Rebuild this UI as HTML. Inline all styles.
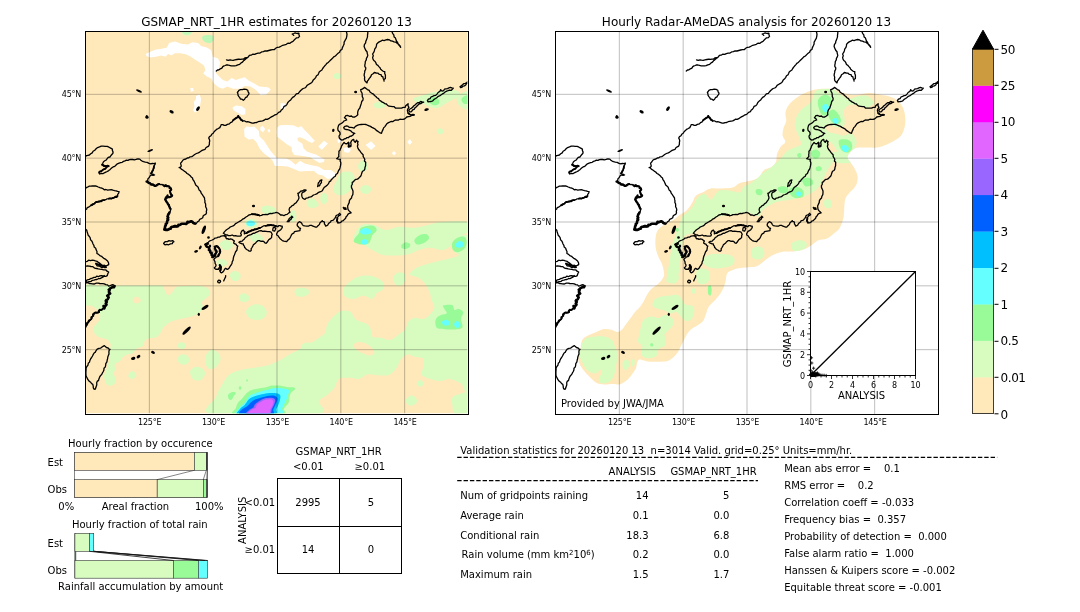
<!DOCTYPE html>
<html><head><meta charset="utf-8"><title>GSMAP_NRT_1HR validation 20260120 13</title>
<style>
html,body{margin:0;padding:0;background:#fff;}
body{width:1080px;height:612px;overflow:hidden;}
svg{display:block;font-family:"DejaVu Sans", "Liberation Sans", sans-serif;fill:#000;}
text{white-space:pre;filter:grayscale(1);}
</style></head><body>
<svg width="1080" height="612" viewBox="0 0 1080 612">
<defs><clipPath id="cl"><rect x="86" y="32" width="381.3" height="381.3"/></clipPath><clipPath id="cr"><rect x="556" y="32" width="382" height="382"/></clipPath></defs>
<rect x="85.5" y="31.5" width="383" height="383" fill="#fff"/>
<g clip-path="url(#cl)">
<rect x="85" y="31" width="384" height="384" fill="#FFE8BA"/>
<path d="M85.0 285.6C87.5 282.5 94.2 285.6 100.0 285.6C105.8 285.6 113.3 285.6 120.0 285.6C126.7 285.6 134.2 285.6 140.0 285.6C145.8 285.6 151.3 285.6 155.0 285.6C158.7 285.6 160.3 284.8 162.0 285.6C163.7 286.5 164.0 289.1 165.0 290.7C166.0 292.3 166.8 294.9 168.0 295.2C169.2 295.4 171.2 293.4 172.4 292.2C173.6 291.0 174.2 288.8 175.4 287.8C176.6 286.8 176.4 286.6 179.8 286.3C183.2 286.0 192.2 285.8 196.1 285.8C200.0 285.8 201.0 286.1 203.0 286.5C205.0 286.9 206.8 287.3 208.0 288.5C209.2 289.7 210.4 292.1 210.2 293.7C209.9 295.3 207.9 296.7 206.5 298.1C205.1 299.5 202.6 300.4 202.0 301.9C201.4 303.4 203.3 305.1 202.8 307.0C202.3 308.9 200.7 311.5 199.1 313.0C197.5 314.5 195.1 315.2 193.1 315.9C191.1 316.6 189.4 316.9 187.2 317.4C185.0 317.9 182.3 318.3 179.8 318.9C177.3 319.5 174.6 320.1 172.4 321.1C170.2 322.1 167.9 323.8 166.5 324.8C165.1 325.8 164.5 326.4 163.9 327.0C163.3 327.6 163.4 327.3 162.8 328.3C162.2 329.3 161.7 331.3 160.6 332.8C159.5 334.3 158.0 336.3 156.1 337.2C154.2 338.1 151.2 337.7 149.4 338.3C147.6 338.9 146.1 339.3 145.0 340.6C143.9 341.9 144.1 344.8 142.8 346.1C141.5 347.4 138.5 347.6 137.2 348.3C135.9 349.1 135.6 350.0 135.0 350.6C134.4 351.2 134.5 351.1 133.9 351.7C133.3 352.2 132.8 353.4 131.7 353.9C130.6 354.3 128.7 353.8 127.2 354.4C125.7 354.9 124.1 356.0 122.8 357.2C121.5 358.4 120.7 360.6 119.4 361.7C118.1 362.8 115.7 362.6 115.0 363.9C114.3 365.2 115.2 367.7 115.0 369.4C114.8 371.1 113.8 372.4 113.9 373.9C114.0 375.4 115.4 376.8 115.6 378.3C115.8 379.8 115.7 381.6 115.0 382.8C114.3 384.0 113.0 385.2 111.7 385.6C110.4 386.0 108.3 385.8 107.2 385.0C106.1 384.2 105.5 382.1 105.0 380.6C104.5 379.1 103.8 377.6 103.9 376.1C104.0 374.6 105.0 373.2 105.6 371.7C106.1 370.2 106.7 368.9 107.2 367.2C107.8 365.5 108.5 363.5 108.9 361.7C109.3 359.9 109.2 357.8 109.4 356.1C109.6 354.4 109.8 353.4 110.0 351.7C110.2 350.0 110.5 347.3 110.6 346.0C110.7 344.7 111.2 345.0 110.6 343.9C110.0 342.8 109.1 340.5 107.2 339.4C105.3 338.3 101.4 338.1 99.4 337.2C97.4 336.3 96.0 335.2 95.0 333.9C94.0 332.6 93.6 330.4 93.3 329.4C93.0 328.4 92.5 328.8 93.1 327.8C93.7 326.8 95.8 324.8 96.9 323.3C98.0 321.8 99.3 320.6 99.8 318.9C100.3 317.2 100.4 314.7 99.8 313.0C99.2 311.3 97.6 309.7 96.1 308.5C94.6 307.3 92.8 306.4 90.9 305.6C89.1 304.9 86.0 307.3 85.0 304.0C84.0 300.7 82.5 288.7 85.0 285.6Z" fill="#D8FBC0"/>
<path d="M212.8 414.5C196.2 411.5 214.4 401.9 216.1 396.7C217.8 391.5 220.6 387.0 222.8 383.3C225.0 379.6 226.4 376.6 229.4 374.4C232.4 372.2 236.5 371.1 240.6 370.0C244.7 368.9 249.5 368.5 253.9 367.8C258.3 367.1 263.1 366.7 267.2 365.6C271.3 364.5 274.6 363.0 278.3 361.1C282.0 359.2 286.1 356.2 289.4 354.4C292.7 352.5 296.4 351.1 298.3 350.0C300.2 348.9 300.3 348.9 301.1 347.8C301.9 346.7 301.5 344.2 303.3 343.3C305.1 342.4 309.6 343.1 312.2 342.2C314.8 341.3 316.7 339.5 318.9 337.8C321.1 336.1 324.1 334.6 325.6 332.2C327.1 329.8 326.0 325.9 327.8 323.3C329.6 320.7 334.1 318.7 336.7 316.7C339.3 314.7 340.9 311.9 343.3 311.1C345.7 310.4 349.2 310.9 351.1 312.2C353.0 313.5 352.4 317.0 354.4 318.9C356.4 320.8 360.7 321.4 363.3 323.3C365.9 325.2 368.5 327.8 370.0 330.0C371.5 332.2 370.3 335.4 372.2 336.7C374.1 338.0 378.1 337.2 381.1 337.8C384.1 338.4 387.0 340.6 390.0 340.0C393.0 339.4 396.3 336.2 398.9 334.4C401.5 332.5 404.1 330.9 405.6 328.9C407.1 326.9 406.3 324.0 407.8 322.2C409.3 320.4 411.8 318.4 414.4 317.8C417.0 317.2 420.7 319.5 423.3 318.9C425.9 318.3 428.1 316.2 430.0 314.4C431.9 312.5 434.2 310.4 434.4 307.8C434.6 305.2 431.8 301.3 431.1 298.9C430.4 296.5 430.9 295.7 430.0 293.3C429.1 290.9 427.5 287.0 425.6 284.4C423.8 281.8 421.5 279.5 418.9 277.8C416.3 276.1 410.4 276.1 410.0 274.4C409.6 272.7 413.4 269.6 416.7 267.8C420.0 266.0 425.6 264.6 430.0 263.3C434.4 262.0 438.9 261.1 443.3 260.0C447.8 258.9 452.4 257.4 456.7 256.7C461.0 256.0 466.9 233.8 469.0 255.6C471.1 277.4 470.3 366.5 469.0 387.8C467.7 409.1 464.3 384.8 461.1 383.3C457.9 381.8 453.3 379.3 450.0 378.9C446.7 378.5 444.4 381.1 441.1 381.1C437.8 381.1 433.3 380.0 430.0 378.9C426.7 377.8 422.2 376.2 421.1 374.4C420.0 372.5 422.9 370.4 423.3 367.8C423.7 365.2 424.8 360.8 423.3 358.9C421.8 357.0 417.0 357.4 414.4 356.7C411.8 355.9 410.0 354.0 407.8 354.4C405.6 354.8 403.0 356.7 401.1 358.9C399.2 361.1 398.6 365.2 396.7 367.8C394.8 370.4 392.6 373.1 390.0 374.4C387.4 375.7 384.8 375.6 381.1 375.6C377.4 375.6 371.5 373.8 367.8 374.4C364.1 374.9 361.9 378.3 358.9 378.9C355.9 379.5 353.3 377.8 350.0 377.8C346.7 377.8 341.5 377.2 338.9 378.9C336.3 380.6 336.2 385.2 334.4 387.8C332.5 390.4 330.4 392.2 327.8 394.4C325.2 396.6 320.9 397.8 318.9 401.1C316.9 404.5 333.3 412.3 315.6 414.5C297.9 416.7 229.4 417.5 212.8 414.5Z" fill="#D8FBC0"/>
<path d="M353.3 241.1C352.2 238.7 355.0 232.8 356.7 230.0C358.4 227.2 360.4 225.2 363.3 224.4C366.2 223.6 370.7 224.0 374.4 224.9C378.1 225.8 381.5 229.7 385.6 230.0C389.7 230.3 394.1 227.1 398.9 226.7C403.7 226.3 409.2 228.2 414.4 227.8C419.6 227.4 425.2 225.4 430.0 224.4C434.8 223.4 436.8 222.2 443.3 221.8C449.8 221.4 464.7 220.6 469.0 222.2C473.3 223.8 470.3 228.9 469.0 231.1C467.7 233.3 463.9 233.4 461.1 235.6C458.3 237.8 455.2 242.0 452.2 244.4C449.2 246.8 447.0 249.4 443.3 250.0C439.6 250.6 434.1 247.8 430.0 247.8C425.9 247.8 422.6 248.9 418.9 250.0C415.2 251.1 412.2 253.5 407.8 254.4C403.4 255.3 396.6 255.6 392.2 255.6C387.8 255.6 384.4 255.3 381.1 254.4C377.8 253.5 375.2 251.7 372.2 250.0C369.2 248.3 366.4 245.9 363.3 244.4C360.2 242.9 354.4 243.5 353.3 241.1Z" fill="#D8FBC0"/>
<path d="M452.0 238.0C454.8 236.0 466.2 233.0 469.0 236.0C471.8 239.0 470.8 253.0 469.0 256.0C467.2 259.0 460.8 255.3 458.0 254.0C455.2 252.7 453.0 250.7 452.0 248.0C451.0 245.3 449.2 240.0 452.0 238.0Z" fill="#D8FBC0"/>
<path d="M343.3 288.9C344.4 286.1 348.9 282.2 352.2 280.0C355.5 277.8 359.6 276.2 363.3 275.6C367.0 275.1 371.1 275.6 374.4 276.7C377.7 277.8 381.8 280.2 383.3 282.2C384.8 284.2 384.4 287.0 383.3 288.9C382.2 290.8 378.6 291.6 376.7 293.3C374.8 295.0 374.4 298.5 372.2 298.9C370.0 299.3 366.3 295.6 363.3 295.6C360.3 295.6 357.3 298.7 354.4 298.9C351.4 299.1 347.5 298.4 345.6 296.7C343.8 295.0 342.2 291.7 343.3 288.9Z" fill="#D8FBC0"/>
<path d="M394.0 276.0C394.7 274.0 397.2 272.5 399.0 272.2C400.8 271.9 403.9 272.7 405.0 274.0C406.1 275.3 406.3 278.1 405.6 280.0C404.9 281.9 402.8 284.9 401.0 285.6C399.2 286.3 396.2 285.6 395.0 284.0C393.8 282.4 393.3 278.0 394.0 276.0Z" fill="#D8FBC0"/>
<path d="M327.8 336.0C326.4 333.8 326.0 329.7 326.7 326.7C327.4 323.7 329.8 320.4 332.2 317.8C334.6 315.2 338.1 312.0 341.1 311.1C344.1 310.2 347.4 310.7 350.0 312.2C352.6 313.7 353.7 318.0 356.7 320.0C359.7 322.0 365.4 322.5 367.8 324.4C370.2 326.2 370.7 328.8 371.1 331.1C371.5 333.4 373.5 336.2 370.0 338.0C366.5 339.8 355.8 341.7 350.0 342.0C344.2 342.3 338.7 341.0 335.0 340.0C331.3 339.0 329.2 338.2 327.8 336.0Z" fill="#D8FBC0"/>
<path d="M295.0 290.0C295.8 288.7 298.8 287.9 301.0 287.8C303.2 287.7 306.7 288.6 308.0 289.5C309.3 290.4 309.7 292.3 308.9 293.5C308.1 294.7 305.1 296.4 303.0 296.7C300.9 297.0 297.3 296.6 296.0 295.5C294.7 294.4 294.2 291.3 295.0 290.0Z" fill="#D8FBC0"/>
<path d="M239.0 296.0C239.6 294.8 241.9 293.4 243.5 293.3C245.1 293.2 247.5 294.5 248.5 295.5C249.5 296.5 250.0 298.4 249.4 299.5C248.8 300.6 246.6 302.0 245.0 302.2C243.4 302.4 241.0 301.5 240.0 300.5C239.0 299.5 238.4 297.2 239.0 296.0Z" fill="#D8FBC0"/>
<path d="M247.0 309.0C248.2 307.4 251.5 305.0 254.0 304.4C256.5 303.8 259.9 304.4 262.0 305.5C264.1 306.6 266.0 309.1 266.5 311.0C267.0 312.9 266.4 315.5 265.0 317.0C263.6 318.5 260.5 319.8 258.0 320.0C255.5 320.2 251.9 319.5 250.0 318.5C248.1 317.5 247.0 315.6 246.5 314.0C246.0 312.4 245.8 310.6 247.0 309.0Z" fill="#D8FBC0"/>
<path d="M230.0 274.0C230.5 272.6 232.9 271.3 234.5 271.1C236.1 270.9 238.5 271.9 239.5 273.0C240.5 274.1 241.1 276.1 240.6 277.5C240.1 278.9 238.0 280.8 236.5 281.1C235.0 281.4 232.6 280.7 231.5 279.5C230.4 278.3 229.5 275.4 230.0 274.0Z" fill="#D8FBC0"/>
<path d="M261.0 208.0C261.5 206.7 264.8 205.7 267.0 205.6C269.2 205.5 272.5 206.6 274.0 207.5C275.5 208.4 276.6 209.8 276.1 211.0C275.6 212.2 273.0 214.0 271.0 214.4C269.0 214.8 265.7 214.6 264.0 213.5C262.3 212.4 260.5 209.3 261.0 208.0Z" fill="#D8FBC0"/>
<path d="M244.5 221.5C245.0 220.2 248.0 219.1 250.0 218.9C252.0 218.7 255.1 219.6 256.5 220.5C257.9 221.4 258.7 223.3 258.3 224.5C257.9 225.7 255.9 227.4 254.0 227.8C252.1 228.2 248.6 228.1 247.0 227.0C245.4 225.9 244.0 222.8 244.5 221.5Z" fill="#D8FBC0"/>
<path d="M246.5 222.5C247.0 221.7 249.2 220.7 250.5 220.6C251.8 220.5 253.8 221.3 254.5 222.0C255.2 222.7 255.2 224.1 254.6 224.8C254.0 225.5 252.2 226.1 251.0 226.2C249.8 226.3 248.1 225.9 247.3 225.3C246.6 224.7 246.0 223.3 246.5 222.5Z" fill="#66FFFF"/>
<path d="M250.0 236.0C250.6 234.7 253.6 233.4 255.5 233.3C257.4 233.2 260.3 234.5 261.5 235.5C262.7 236.5 263.4 238.4 262.8 239.5C262.2 240.6 259.8 241.9 258.0 242.2C256.2 242.4 253.3 242.0 252.0 241.0C250.7 240.0 249.4 237.3 250.0 236.0Z" fill="#D8FBC0"/>
<path d="M220.0 243.0C220.6 241.6 223.6 240.2 225.5 240.0C227.4 239.8 230.3 240.9 231.5 242.0C232.7 243.1 233.4 245.2 232.8 246.5C232.2 247.8 229.8 249.7 228.0 250.0C226.2 250.3 223.3 249.7 222.0 248.5C220.7 247.3 219.4 244.4 220.0 243.0Z" fill="#D8FBC0"/>
<path d="M216.5 261.0C217.0 259.9 219.4 259.0 221.0 258.9C222.6 258.8 225.0 259.6 226.0 260.5C227.0 261.4 227.7 263.0 227.2 264.0C226.7 265.0 224.5 266.4 223.0 266.7C221.5 266.9 219.1 266.4 218.0 265.5C216.9 264.6 216.0 262.1 216.5 261.0Z" fill="#D8FBC0"/>
<path d="M307.5 203.0C308.1 201.9 310.3 200.2 312.0 200.0C313.7 199.8 316.4 201.0 317.5 202.0C318.6 203.0 319.1 205.0 318.3 206.0C317.6 207.0 314.6 207.9 313.0 208.0C311.4 208.1 309.4 207.3 308.5 206.5C307.6 205.7 306.9 204.1 307.5 203.0Z" fill="#D8FBC0"/>
<path d="M290.0 214.0C290.5 212.3 292.0 210.2 293.0 210.0C294.0 209.8 295.5 211.5 296.0 213.0C296.5 214.5 296.6 217.5 296.1 219.0C295.6 220.5 294.0 222.0 293.0 222.2C292.0 222.4 290.5 221.4 290.0 220.0C289.5 218.6 289.5 215.7 290.0 214.0Z" fill="#D8FBC0"/>
<path d="M341.1 172.8C343.3 171.3 347.8 171.1 350.0 171.7C352.2 172.2 353.8 174.1 354.4 176.1C354.9 178.1 354.0 181.5 353.3 183.9C352.6 186.3 351.7 188.8 350.0 190.6C348.3 192.4 345.7 194.4 343.3 195.0C340.9 195.6 337.3 195.0 335.6 193.9C333.9 192.8 333.1 190.5 333.3 188.3C333.5 186.1 335.4 183.2 336.7 180.6C338.0 178.0 338.9 174.3 341.1 172.8Z" fill="#D8FBC0"/>
<path d="M358.5 164.0C359.1 162.4 361.1 160.8 362.5 160.6C363.9 160.4 366.1 161.8 367.0 163.0C367.9 164.2 368.3 166.6 367.8 168.0C367.3 169.4 365.5 171.4 364.0 171.7C362.5 172.0 359.9 171.3 359.0 170.0C358.1 168.7 357.9 165.6 358.5 164.0Z" fill="#D8FBC0"/>
<path d="M360.5 188.0C361.1 186.8 363.4 185.2 365.0 185.0C366.6 184.8 369.0 185.6 370.0 186.5C371.0 187.4 371.6 189.3 371.1 190.5C370.6 191.7 368.6 193.6 367.0 193.9C365.4 194.2 362.6 193.5 361.5 192.5C360.4 191.5 359.9 189.2 360.5 188.0Z" fill="#D8FBC0"/>
<path d="M307.0 201.5C307.7 200.3 310.0 198.5 311.5 198.3C313.0 198.1 315.1 199.4 316.0 200.5C316.9 201.6 317.4 203.9 316.7 205.0C316.0 206.1 313.5 207.1 312.0 207.2C310.5 207.3 308.3 206.4 307.5 205.5C306.7 204.6 306.3 202.7 307.0 201.5Z" fill="#D8FBC0"/>
<path d="M320.5 196.0C320.9 194.5 322.4 193.0 323.5 192.8C324.6 192.6 326.3 193.7 327.0 195.0C327.7 196.3 328.2 199.0 327.8 200.5C327.4 202.0 325.6 203.7 324.5 203.9C323.4 204.2 321.7 203.3 321.0 202.0C320.3 200.7 320.1 197.5 320.5 196.0Z" fill="#D8FBC0"/>
<path d="M373.5 104.0C374.2 103.0 377.2 101.8 379.0 101.7C380.8 101.6 383.4 102.7 384.5 103.5C385.6 104.3 386.2 105.7 385.6 106.5C385.0 107.3 382.8 108.1 381.0 108.3C379.2 108.5 376.2 108.2 375.0 107.5C373.8 106.8 372.8 105.0 373.5 104.0Z" fill="#D8FBC0"/>
<path d="M413.0 99.0C413.5 97.9 417.2 97.0 420.0 96.0C422.8 95.0 426.7 93.8 430.0 93.0C433.3 92.2 436.7 91.5 440.0 91.0C443.3 90.5 447.0 90.0 450.0 90.0C453.0 90.0 456.5 90.0 458.0 91.0C459.5 92.0 460.0 94.5 459.0 96.0C458.0 97.5 454.3 98.7 452.0 100.0C449.7 101.3 447.3 102.7 445.0 104.0C442.7 105.3 440.5 107.5 438.0 108.0C435.5 108.5 432.3 107.7 430.0 107.0C427.7 106.3 426.2 104.8 424.0 104.0C421.8 103.2 418.8 103.3 417.0 102.5C415.2 101.7 412.5 100.1 413.0 99.0Z" fill="#D8FBC0"/>
<path d="M429.0 99.0C429.8 98.1 432.3 96.8 434.0 97.0C435.7 97.2 438.3 98.8 439.0 100.0C439.7 101.2 439.0 103.7 438.0 104.5C437.0 105.3 434.4 105.3 433.0 105.0C431.6 104.7 430.2 103.5 429.5 102.5C428.8 101.5 428.2 99.9 429.0 99.0Z" fill="#98FB98"/>
<path d="M456.7 97.0C457.4 95.2 459.9 93.8 462.0 93.0C464.1 92.2 467.8 89.5 469.0 92.0C470.2 94.5 470.0 105.6 469.0 108.3C468.0 111.0 464.8 108.7 463.0 108.0C461.2 107.3 459.1 105.8 458.0 104.0C456.9 102.2 456.0 98.8 456.7 97.0Z" fill="#D8FBC0"/>
<path d="M462.0 98.0C462.7 97.0 464.8 95.8 466.0 95.5C467.2 95.2 468.5 94.8 469.0 96.0C469.5 97.2 469.7 101.7 469.0 103.0C468.3 104.3 466.2 104.2 465.0 104.0C463.8 103.8 462.5 102.5 462.0 101.5C461.5 100.5 461.3 99.0 462.0 98.0Z" fill="#98FB98"/>
<path d="M437.0 130.0C437.5 129.2 439.0 128.3 440.0 128.3C441.0 128.3 442.4 129.2 443.0 130.0C443.6 130.8 443.8 132.3 443.3 133.0C442.8 133.7 441.0 134.2 440.0 134.2C439.0 134.2 437.7 133.5 437.2 132.8C436.7 132.1 436.5 130.8 437.0 130.0Z" fill="#D8FBC0"/>
<path d="M333.5 75.0C334.0 74.2 335.8 73.1 337.0 73.0C338.2 72.9 339.8 73.8 340.5 74.5C341.2 75.2 341.5 76.8 341.0 77.5C340.5 78.2 338.7 78.9 337.5 79.0C336.3 79.1 334.7 78.7 334.0 78.0C333.3 77.3 333.0 75.8 333.5 75.0Z" fill="#D8FBC0"/>
<path d="M182.8 31.0C184.2 30.4 190.2 30.5 191.7 31.0C193.1 31.5 192.3 33.2 191.5 34.0C190.7 34.8 188.4 35.5 187.0 35.6C185.6 35.7 183.7 35.3 183.0 34.5C182.3 33.7 181.4 31.6 182.8 31.0Z" fill="#D8FBC0"/>
<path d="M182.8 31.0C184.2 30.5 190.3 30.6 191.7 31.0C193.1 31.4 191.8 32.9 191.0 33.5C190.2 34.1 188.2 34.8 187.0 34.8C185.8 34.8 184.2 34.4 183.5 33.8C182.8 33.2 181.4 31.5 182.8 31.0Z" fill="#C4F8B8"/>
<path d="M202.5 36.5C203.2 35.8 205.2 35.1 206.9 35.0C208.6 34.9 211.6 34.9 212.7 35.7C213.8 36.6 213.8 38.9 213.4 40.1C213.0 41.3 211.8 42.6 210.5 43.0C209.2 43.4 206.7 42.9 205.4 42.3C204.1 41.7 203.0 40.4 202.5 39.4C202.0 38.4 201.8 37.2 202.5 36.5Z" fill="#BDF7B5"/>
<path d="M177.5 344.5C177.9 343.6 179.8 342.4 181.0 342.2C182.2 342.0 184.2 342.8 185.0 343.5C185.8 344.2 186.4 345.6 186.1 346.5C185.8 347.4 184.3 348.7 183.0 348.9C181.7 349.1 179.4 348.5 178.5 347.8C177.6 347.1 177.1 345.4 177.5 344.5Z" fill="#D8FBC0"/>
<path d="M177.5 358.0C177.8 356.5 180.3 354.7 182.0 354.4C183.7 354.1 186.3 355.0 187.5 356.0C188.7 357.0 189.7 359.1 189.4 360.5C189.2 361.9 187.6 363.9 186.0 364.4C184.4 364.9 181.4 364.6 180.0 363.5C178.6 362.4 177.2 359.5 177.5 358.0Z" fill="#D8FBC0"/>
<path d="M190.0 371.5C190.4 369.4 193.8 367.1 196.0 366.7C198.2 366.3 201.5 367.7 203.0 369.0C204.5 370.3 205.3 372.7 205.0 374.5C204.7 376.3 202.9 379.2 201.0 380.0C199.1 380.8 195.3 380.9 193.5 379.5C191.7 378.1 189.6 373.6 190.0 371.5Z" fill="#D8FBC0"/>
<path d="M205.5 356.0C206.4 353.8 208.9 350.6 211.0 350.0C213.1 349.4 216.4 351.0 218.0 352.5C219.6 354.0 220.9 356.6 220.6 359.0C220.3 361.4 217.9 365.4 216.0 367.0C214.1 368.6 210.8 369.5 209.0 368.9C207.2 368.3 206.1 365.6 205.5 363.5C204.9 361.4 204.6 358.2 205.5 356.0Z" fill="#D8FBC0"/>
<path d="M128.5 374.5C129.0 373.4 130.8 371.4 132.0 371.1C133.2 370.9 134.8 372.1 135.5 373.0C136.2 373.9 136.6 375.5 136.1 376.5C135.6 377.5 133.7 378.7 132.5 378.9C131.3 379.1 129.7 378.2 129.0 377.5C128.3 376.8 128.0 375.6 128.5 374.5Z" fill="#D8FBC0"/>
<path d="M417.0 382.5C417.5 381.6 419.0 380.1 420.0 380.0C421.0 379.9 422.4 381.2 423.0 382.0C423.6 382.8 423.8 384.2 423.3 385.0C422.8 385.8 421.0 386.6 420.0 386.7C419.0 386.8 417.7 386.2 417.2 385.5C416.7 384.8 416.5 383.4 417.0 382.5Z" fill="#D8FBC0"/>
<path d="M406.0 399.5C406.7 398.1 409.3 395.9 411.0 395.6C412.7 395.4 415.1 396.9 416.0 398.0C416.9 399.1 417.4 401.2 416.7 402.5C416.0 403.8 413.6 405.4 412.0 405.6C410.4 405.9 408.0 405.0 407.0 404.0C406.0 403.0 405.3 400.9 406.0 399.5Z" fill="#D8FBC0"/>
<path d="M452.2 398.0C453.1 396.1 455.2 395.1 458.0 394.4C460.8 393.7 467.2 390.6 469.0 394.0C470.8 397.4 471.3 411.1 469.0 414.5C466.7 417.9 457.8 415.9 455.0 414.5C452.2 413.1 453.0 408.8 452.5 406.0C452.0 403.2 451.3 399.9 452.2 398.0Z" fill="#D8FBC0"/>
<path d="M354.4 238.9C355.1 237.4 357.8 235.2 358.9 233.3C360.0 231.5 358.9 229.1 361.1 227.8C363.3 226.5 369.6 225.2 372.2 225.6C374.8 226.0 376.7 228.3 376.7 230.0C376.7 231.7 373.5 233.4 372.2 235.6C370.9 237.8 370.8 241.8 368.9 243.3C367.0 244.8 363.5 244.6 361.1 244.4C358.7 244.2 355.5 243.1 354.4 242.2C353.3 241.3 353.6 240.4 354.4 238.9Z" fill="#98FB98"/>
<path d="M360.5 230.5C361.2 229.6 363.8 228.1 365.5 228.0C367.2 227.9 369.6 229.2 370.5 230.0C371.4 230.8 371.9 232.3 371.1 233.0C370.4 233.7 367.7 234.3 366.0 234.4C364.3 234.5 361.9 234.1 361.0 233.4C360.1 232.8 359.8 231.4 360.5 230.5Z" fill="#66FFFF"/>
<path d="M361.5 241.0C361.9 240.2 363.5 239.0 364.5 238.9C365.5 238.8 366.9 239.8 367.5 240.5C368.1 241.2 368.3 242.3 367.8 243.0C367.3 243.7 365.5 244.3 364.5 244.4C363.5 244.5 362.3 244.0 361.8 243.4C361.3 242.8 361.1 241.8 361.5 241.0Z" fill="#66FFFF"/>
<path d="M414.4 240.0C414.9 238.4 417.9 235.9 420.0 235.0C422.1 234.1 425.5 233.8 427.0 234.4C428.5 235.0 429.4 237.1 428.9 238.5C428.4 239.9 426.0 242.0 424.0 243.0C422.0 244.0 418.6 244.9 417.0 244.4C415.4 243.9 413.9 241.6 414.4 240.0Z" fill="#98FB98"/>
<path d="M401.5 245.0C402.1 244.0 404.2 242.4 405.5 242.2C406.8 241.9 408.8 242.8 409.5 243.5C410.2 244.2 410.6 245.6 410.0 246.5C409.4 247.4 407.3 248.7 406.0 248.9C404.7 249.2 402.8 248.7 402.0 248.0C401.2 247.3 400.9 246.0 401.5 245.0Z" fill="#98FB98"/>
<path d="M452.2 243.0C452.9 241.0 455.0 239.1 457.0 238.0C459.0 236.9 462.4 236.2 464.0 236.7C465.6 237.2 466.5 239.1 466.7 241.0C466.9 242.9 466.4 246.1 465.0 248.0C463.6 249.9 460.0 251.9 458.0 252.2C456.0 252.5 454.0 251.5 453.0 250.0C452.0 248.5 451.5 245.0 452.2 243.0Z" fill="#98FB98"/>
<path d="M455.8 244.0C456.4 243.1 458.3 241.3 459.5 241.1C460.7 240.8 462.4 241.7 463.0 242.5C463.6 243.3 463.9 245.1 463.3 246.0C462.7 246.9 460.7 247.7 459.5 247.8C458.3 247.9 456.8 247.4 456.2 246.8C455.6 246.2 455.2 244.9 455.8 244.0Z" fill="#66FFFF"/>
<path d="M443.3 305.6C444.6 304.9 450.4 304.4 452.2 305.1C454.1 305.9 453.3 309.4 454.4 310.0C455.6 310.6 457.4 308.5 458.9 308.9C460.4 309.3 463.0 310.6 463.3 312.2C463.7 313.9 461.3 316.3 461.1 318.9C460.9 321.5 463.7 326.0 462.2 327.8C460.7 329.6 455.4 329.4 452.2 329.6C449.1 329.7 445.9 329.2 443.3 328.9C440.7 328.6 438.0 329.3 436.7 327.8C435.4 326.3 435.0 322.0 435.6 320.0C436.1 318.0 438.1 316.7 440.0 315.6C441.9 314.4 445.9 314.4 446.7 313.3C447.4 312.2 445.0 310.2 444.4 308.9C443.9 307.6 442.0 306.2 443.3 305.6Z" fill="#98FB98"/>
<path d="M442.7 321.1C443.4 320.5 445.4 319.6 446.7 319.8C447.9 320.0 449.6 321.3 450.0 322.2C450.4 323.1 449.8 324.6 448.9 325.1C448.0 325.7 445.6 325.9 444.4 325.6C443.3 325.3 442.5 324.1 442.2 323.3C441.9 322.6 441.9 321.7 442.7 321.1Z" fill="#66FFFF"/>
<path d="M454.4 322.9C454.9 322.1 456.2 321.0 457.1 321.1C458.0 321.2 459.5 322.4 460.0 323.3C460.5 324.3 460.6 325.9 460.0 326.7C459.4 327.4 457.6 328.0 456.7 327.8C455.7 327.6 454.8 326.4 454.4 325.6C454.1 324.7 454.0 323.6 454.4 322.9Z" fill="#66FFFF"/>
<path d="M235.2 414.8C227.6 413.7 235.5 410.1 235.9 408.1C236.4 406.2 236.9 404.4 237.8 403.0C238.7 401.5 240.2 400.6 241.5 399.3C242.7 397.9 244.1 396.0 245.2 394.8C246.3 393.6 246.8 392.7 248.1 391.9C249.5 391.0 251.1 390.2 253.3 389.6C255.6 389.0 259.0 388.6 261.5 388.1C264.0 387.7 266.4 387.1 268.1 386.7C269.9 386.2 270.0 385.7 271.9 385.6C273.7 385.4 276.8 385.3 279.3 385.6C281.7 385.8 284.2 386.7 286.7 387.0C289.1 387.3 292.7 387.0 294.1 387.4C295.4 387.8 295.3 388.8 294.8 389.6C294.3 390.5 292.0 391.4 291.1 392.6C290.2 393.8 290.0 395.4 289.6 397.0C289.3 398.6 289.4 400.9 288.9 402.2C288.4 403.6 287.5 404.1 286.7 405.2C285.8 406.3 284.6 407.3 283.7 408.9C282.8 410.5 289.6 413.8 281.5 414.8C273.4 415.8 242.8 415.9 235.2 414.8Z" fill="#98FB98"/>
<path d="M228.1 394.8C228.6 394.0 229.9 392.9 231.1 392.4C232.3 392.0 234.4 392.0 235.2 392.2C235.9 392.5 235.8 393.5 235.6 394.1C235.3 394.7 234.3 395.0 233.7 395.9C233.1 396.8 232.6 398.8 231.9 399.4C231.1 400.0 229.9 400.0 229.3 399.6C228.7 399.3 228.5 398.2 228.3 397.4C228.1 396.6 227.7 395.6 228.1 394.8Z" fill="#98FB98"/>
<path d="M238.9 387.0C239.1 386.5 240.0 386.2 240.4 386.3C240.8 386.4 241.2 387.2 241.3 387.8C241.3 388.3 241.1 389.3 240.7 389.6C240.4 389.9 239.6 389.9 239.3 389.5C239.0 389.0 238.7 387.6 238.9 387.0Z" fill="#98FB98"/>
<path d="M246.1 380.0C246.2 379.7 247.2 379.5 247.6 379.6C247.9 379.8 248.1 380.4 248.0 380.7C247.9 381.1 247.1 381.8 246.8 381.6C246.5 381.5 246.0 380.3 246.1 380.0Z" fill="#98FB98"/>
<path d="M238.9 414.8C232.2 413.7 238.7 409.8 239.3 408.1C239.8 406.5 241.1 406.3 242.2 405.2C243.3 404.1 244.9 402.7 245.9 401.5C246.9 400.2 247.3 398.9 248.1 397.8C249.0 396.7 249.6 395.7 251.1 394.8C252.6 394.0 254.8 393.3 257.0 392.6C259.3 391.9 262.2 391.0 264.4 390.4C266.7 389.8 268.4 389.3 270.4 388.9C272.3 388.5 274.2 388.2 276.3 388.1C278.4 388.1 280.9 388.2 283.0 388.5C285.1 388.8 288.0 389.0 288.9 390.0C289.8 391.0 288.5 393.3 288.1 394.8C287.8 396.4 287.3 397.8 286.7 399.3C286.0 400.7 285.2 402.2 284.4 403.7C283.7 405.2 283.1 406.3 282.2 408.1C281.4 410.0 286.5 413.7 279.3 414.8C272.0 415.9 245.6 415.9 238.9 414.8Z" fill="#66FFFF"/>
<path d="M239.3 414.8C233.7 413.8 239.1 410.5 240.0 408.9C240.9 407.3 243.0 406.8 244.4 405.2C245.9 403.6 247.4 400.7 248.9 399.3C250.4 397.8 251.5 397.4 253.3 396.7C255.2 395.9 257.7 395.4 260.0 394.8C262.3 394.3 265.2 393.6 267.4 393.3C269.6 393.0 271.5 392.9 273.3 393.0C275.2 393.0 277.3 393.2 278.5 393.7C279.7 394.2 280.1 394.9 280.4 395.9C280.6 397.0 280.3 398.6 280.0 400.0C279.7 401.4 279.1 403.0 278.5 404.4C277.9 405.9 277.2 407.2 276.3 408.9C275.4 410.6 279.5 413.8 273.3 414.8C267.2 415.8 244.8 415.8 239.3 414.8Z" fill="#00BFFF"/>
<path d="M241.1 414.8C236.2 414.0 240.8 411.1 241.9 409.6C242.9 408.1 245.9 407.2 247.4 405.9C249.0 404.7 249.8 403.3 251.1 402.2C252.5 401.1 253.8 400.1 255.6 399.3C257.3 398.5 259.5 398.0 261.5 397.4C263.5 396.9 265.4 396.2 267.4 395.9C269.4 395.6 271.7 395.3 273.3 395.6C274.9 395.8 276.4 396.7 277.0 397.4C277.7 398.1 277.7 398.8 277.4 400.0C277.2 401.2 276.2 402.8 275.6 404.4C274.9 406.0 274.1 407.9 273.3 409.6C272.6 411.4 276.5 414.0 271.1 414.8C265.7 415.7 246.0 415.7 241.1 414.8Z" fill="#0060FF"/>
<path d="M246.7 414.8C243.6 414.0 248.5 410.9 249.6 409.6C250.7 408.4 252.5 408.3 253.3 407.4C254.2 406.5 254.0 405.4 254.8 404.4C255.7 403.5 256.9 402.5 258.5 401.5C260.1 400.5 262.5 399.1 264.4 398.5C266.4 397.9 268.8 397.8 270.4 397.8C272.0 397.8 273.3 398.0 274.1 398.5C274.9 399.0 275.2 399.8 275.2 400.7C275.2 401.7 274.6 403.1 274.1 404.4C273.5 405.8 272.8 407.2 271.9 408.9C270.9 410.6 272.3 413.8 268.1 414.8C264.0 415.8 249.8 415.7 246.7 414.8Z" fill="#9966FF"/>
<path d="M247.8 414.8C245.1 414.0 249.8 411.2 251.1 410.0C252.4 408.8 254.6 408.7 255.6 407.8C256.5 406.9 256.0 405.5 257.0 404.4C258.0 403.4 260.0 402.3 261.5 401.5C263.0 400.7 264.3 400.0 265.9 399.6C267.5 399.3 269.9 399.0 271.1 399.3C272.3 399.6 273.1 400.5 273.3 401.5C273.6 402.5 273.1 403.8 272.6 405.2C272.1 406.5 271.2 408.0 270.4 409.6C269.5 411.2 271.2 414.0 267.4 414.8C263.6 415.7 250.5 415.6 247.8 414.8Z" fill="#E066FF"/>
<path d="M133.0 299.0C133.5 298.1 135.3 296.8 136.5 296.7C137.7 296.6 139.3 297.7 140.0 298.5C140.7 299.3 141.1 300.7 140.6 301.5C140.1 302.3 138.2 303.2 137.0 303.3C135.8 303.4 134.2 302.7 133.5 302.0C132.8 301.3 132.5 299.9 133.0 299.0Z" fill="#FFE8BA"/>
<path d="M353.3 345.0C353.6 343.8 355.9 342.4 358.0 342.2C360.1 341.9 363.7 342.5 366.0 343.5C368.3 344.5 370.6 346.4 372.0 348.0C373.4 349.6 374.7 351.7 374.4 353.0C374.1 354.3 372.1 355.6 370.0 355.6C367.9 355.6 364.3 354.0 362.0 353.0C359.7 352.0 357.4 350.8 356.0 349.5C354.6 348.2 353.0 346.2 353.3 345.0Z" fill="#FFE8BA"/>
<path d="M145.8 53.9L150.2 51.7L156.0 49.5L161.8 48.8L166.9 47.4L169.1 43.0L174.9 41.5L181.4 43.7L188.0 44.4L192.3 42.3L198.1 43.0L201.1 45.9L206.9 47.4L211.2 50.3L212.7 56.8L217.8 58.3L220.0 61.9L219.2 68.4L215.6 72.8L219.2 76.4L222.9 80.1L227.2 81.5L231.6 77.9L235.9 80.1L240.3 78.6L244.7 77.2L249.0 80.8L254.8 83.7L259.2 86.6L267.9 87.3L270.8 89.5L266.5 94.6L260.7 95.3L256.3 90.2L250.5 86.6L244.7 85.9L240.3 88.8L233.0 88.8L227.2 86.6L222.9 88.8L218.5 87.3L214.1 83.7L211.2 78.6L206.9 76.4L203.2 73.5L205.4 69.9L204.0 65.5L199.6 62.6L195.2 59.7L190.9 56.8L186.5 54.6L180.7 53.2L174.9 53.2L171.3 55.4L168.3 53.9L165.4 56.8L161.1 55.4L156.0 56.8L150.2 57.5L146.5 56.1Z" fill="#fff"/>
<path d="M190.2 88.1L193.1 88.1L193.8 91.0L190.9 91.7Z" fill="#fff"/>
<path d="M196.0 96.1L199.6 94.6L201.1 99.0L200.3 104.8L198.1 109.9L195.2 112.8L193.1 110.6L194.5 106.2L193.8 101.9L196.0 99.0Z" fill="#fff"/>
<path d="M232.3 107.7L235.9 105.5L241.8 106.2L245.4 109.1L245.4 114.2L241.8 115.0L237.4 112.8L233.8 110.6Z" fill="#fff"/>
<path d="M280.6 103.2L285.0 103.2L285.0 108.8L280.6 108.8Z" fill="#fff"/>
<path d="M244.0 129.3L246.3 126.4L250.9 127.0L254.3 126.4L258.9 131.0L259.4 136.2L264.0 140.7L267.4 145.9L270.3 150.4L273.7 154.5L276.6 157.9L286.3 158.5L290.9 160.7L295.5 164.7L300.0 160.7L304.6 163.6L311.5 165.3L318.3 166.5L324.0 169.9L330.9 169.9L335.5 173.3L334.3 177.9L327.5 179.0L322.9 175.6L318.3 174.5L313.8 171.0L306.9 171.0L300.0 171.6L293.2 168.7L287.5 166.5L281.7 165.9L274.9 165.9L272.6 160.7L269.2 157.3L264.6 153.9L260.0 149.3L256.6 142.4L253.2 139.0L248.6 139.6L244.6 136.7Z" fill="#fff"/>
<path d="M260.6 127.0L262.9 125.9L265.2 129.3L262.9 132.2L260.2 129.9Z" fill="#fff"/>
<path d="M267.4 129.9L269.2 129.0L270.5 131.0L268.9 132.7Z" fill="#fff"/>
<path d="M277.2 127.6L280.0 125.3L286.3 125.1L293.2 125.3L298.3 127.6L301.2 125.9L304.6 129.9L309.2 134.4L312.6 138.4L314.9 140.7L312.0 143.0L308.0 141.3L304.6 139.0L300.0 137.3L297.2 137.9L298.3 141.3L302.3 143.6L303.5 148.2L306.9 151.6L311.5 153.3L316.0 154.5L320.6 157.3L324.6 159.6L324.0 161.9L319.5 163.0L314.9 160.2L310.3 157.3L304.6 156.2L298.9 155.6L294.3 155.0L292.0 151.6L291.5 147.0L287.5 144.7L284.0 141.9L280.6 139.6L277.2 136.7L276.6 132.2Z" fill="#fff"/>
<path d="M318.3 146.4L324.0 140.7L328.0 143.6L321.8 149.9Z" fill="#fff"/>
<path d="M337.2 139.5L340.5 138.4L341.2 142.0L338.0 143.0Z" fill="#fff"/>
<path d="M343.3 148.0L348.0 147.2L351.1 149.5L349.0 152.8L344.5 152.2Z" fill="#fff"/>
<path d="M365.6 145.0L371.1 141.2L375.6 146.1L371.1 150.1Z" fill="#fff"/>
<path d="M391.8 153.2L394.0 151.0L396.2 153.2L394.0 155.4Z" fill="#fff"/>
<path d="M407.3 142.0L409.8 139.0L412.2 142.2L409.6 145.0Z" fill="#fff"/>
</g>
<g clip-path="url(#cl)"><g stroke="#000" stroke-opacity="0.36" stroke-width="0.7">
<line x1="149.33" x2="149.33" y1="31.5" y2="414.5"/>
<line x1="213.17" x2="213.17" y1="31.5" y2="414.5"/>
<line x1="277.00" x2="277.00" y1="31.5" y2="414.5"/>
<line x1="340.83" x2="340.83" y1="31.5" y2="414.5"/>
<line x1="404.67" x2="404.67" y1="31.5" y2="414.5"/>
<line x1="85.5" x2="468.5" y1="349.67" y2="349.67"/>
<line x1="85.5" x2="468.5" y1="285.83" y2="285.83"/>
<line x1="85.5" x2="468.5" y1="222.00" y2="222.00"/>
<line x1="85.5" x2="468.5" y1="158.17" y2="158.17"/>
<line x1="85.5" x2="468.5" y1="94.33" y2="94.33"/>
</g><g transform="translate(-470,0)" fill="none" stroke="#000" stroke-width="1.3" stroke-linejoin="round" stroke-linecap="round">
<path d="M686.3 71.0L687.5 70.0L689.0 69.8L690.3 68.8L691.9 68.1L692.8 66.6L694.0 65.9L695.3 65.5L696.5 64.9L698.0 65.0L699.4 65.4L701.2 65.9L703.0 65.8L704.6 65.9L706.1 65.6L707.8 64.8L709.7 64.3L711.1 62.9L712.5 62.1L713.5 60.8L714.8 59.9L716.2 58.5L717.8 57.4L718.7 56.5L719.3 55.4L721.1 55.2L722.7 54.2L724.7 54.4L726.3 53.6L728.1 53.2L730.0 53.1L731.6 51.9L733.4 51.7L735.1 50.9L737.0 51.0L738.8 50.5L740.6 50.0L742.5 49.7L744.4 49.5L745.7 48.2L747.4 47.3L749.3 47.1L751.0 46.2L752.7 45.3L754.5 44.9L756.3 44.3L757.9 43.2L760.0 43.3L761.5 42.1L763.0 41.4L764.0 40.2L765.2 39.1L766.5 37.8L768.4 37.6L769.6 36.2L768.9 34.8L768.9 33.2L767.0 33.5L765.2 32.8L763.7 33.5L762.2 34.0L763.0 34.6L763.7 35.4M696.5 59.9L698.2 60.4L700.0 59.9L701.5 60.2L703.1 60.3L705.0 59.9L707.0 59.5L708.9 59.1L710.5 59.4L712.0 59.1L713.6 59.0L714.8 57.9L716.3 57.6L717.8 57.4M816.3 31.5L816.8 33.1L817.0 34.7L816.7 36.6L816.3 38.4L815.5 39.6L814.9 40.9L814.1 42.1L814.1 44.0L813.3 45.8L812.4 47.6L811.9 49.5L810.3 50.4L809.6 52.2L808.1 53.2L806.7 54.6L805.4 56.0L803.7 56.9L802.7 58.1L801.5 59.2L800.4 60.3L799.3 61.4L798.2 62.5L796.8 63.4L795.9 64.6L794.8 65.8L793.7 67.1L792.7 68.5L791.9 70.0L790.4 71.0L789.2 72.0L788.7 73.3L788.1 74.7L786.5 75.8L785.6 77.6L784.4 79.1L783.2 80.1L782.4 81.6L781.5 82.8L780.0 83.6L778.5 84.5L777.1 85.4L776.1 86.9L774.8 88.0L773.2 88.5L771.9 89.4L770.7 90.5L769.6 91.7L768.4 93.3L766.3 93.8L765.2 95.4L764.1 96.6L762.6 97.3L761.6 98.6L760.7 99.9L759.2 101.1L757.8 102.5L757.0 104.3L755.9 105.7L754.1 106.4L753.3 108.0L752.4 109.3L751.1 110.3L750.4 111.7L748.6 112.3L747.4 113.7L745.9 114.7L744.3 115.2L742.9 116.2L741.4 116.9L740.0 117.7L738.7 118.7L737.2 119.4L735.4 119.2L734.1 120.2L732.7 120.9L731.1 121.1L729.6 121.4L728.1 121.7L726.7 122.5L725.2 122.6L723.7 123.0L722.2 123.1L720.7 122.6L719.3 122.1L717.8 121.7L716.0 121.8L714.4 120.8L712.6 120.9L711.5 119.8L710.4 118.7L709.0 117.4L708.3 115.7L707.3 116.9L706.1 118.0L704.6 119.1L703.1 120.2L702.2 121.8L700.5 122.6L699.4 123.9L697.4 124.4L695.7 125.4L694.2 125.4L692.8 124.7L691.3 124.6L690.6 126.1L689.8 127.6L688.3 128.5L686.6 129.3L685.4 130.6L684.1 131.7L683.2 133.3L681.7 134.3L681.0 135.8L679.5 136.6L678.7 138.0L679.4 139.4L679.7 140.9L679.4 142.4L679.4 144.3L678.7 146.1L677.3 146.8L675.9 147.7L675.1 149.3L673.5 149.8L672.1 150.4L670.8 151.2L669.7 152.1L668.3 152.8L666.4 153.5L664.7 154.5L663.1 155.7L661.8 156.6L660.1 156.8L658.8 157.8L657.2 158.0L655.9 159.0L654.2 159.4L652.8 160.2L651.9 161.8L650.6 163.1L650.9 164.6L651.3 166.1L650.4 167.1L649.1 167.6L650.5 168.0L651.3 169.1L652.8 170.0L654.2 171.1L655.7 172.0L657.0 173.5L658.7 174.4L660.2 175.7L661.2 177.0L662.5 178.0L662.9 179.6L663.9 180.9L664.6 182.2L665.1 183.6L665.7 185.1L666.9 186.1L668.2 187.2L668.6 188.8L669.3 190.2L670.6 191.3L671.2 193.2L672.5 194.8L673.5 196.5L674.5 197.8L674.6 199.4L675.0 200.9L674.8 202.3L675.5 203.6L675.7 205.0L675.6 206.7L676.4 208.2L676.8 209.8L676.3 211.4L676.5 213.0L675.7 214.3L674.3 215.0L673.1 216.1L672.7 217.8L671.3 218.7L669.7 219.3L669.0 220.9L667.6 221.7L666.7 223.0L665.4 223.9L663.6 223.2L662.4 221.7L660.5 221.9L658.7 222.4L657.0 223.6L655.0 223.9L653.5 224.2L652.1 224.3L650.6 224.6L649.3 225.2L647.9 225.8L646.9 226.9L645.0 227.1L643.1 226.9L641.8 227.6L640.5 228.2L639.4 229.1L637.3 229.3L635.7 230.6L634.3 229.8L634.8 228.3L635.0 226.8L635.8 225.4L636.4 223.6L637.0 221.7L637.4 220.2L637.5 218.7L637.9 216.9L638.0 215.0L639.0 214.1L639.3 212.8L640.4 211.1L640.6 209.1L640.0 207.5L639.0 206.1L638.1 204.7L637.6 203.1L636.3 201.9L635.5 200.4L636.0 198.6L636.9 198.0L637.6 197.2L639.4 197.2L641.1 196.8L642.4 195.7L641.6 194.5L640.5 193.5L640.2 192.0L640.9 190.2L640.9 188.3L639.7 186.9L638.0 186.1L636.4 186.3L635.0 185.4L633.5 185.4L632.2 184.5L630.5 184.6L629.1 183.9L627.5 184.5L626.1 185.3L624.6 186.1L623.1 185.1L621.4 184.4L620.2 183.1L618.5 182.1L616.5 181.7L617.7 180.4L618.0 178.7L619.3 177.4L620.2 175.7L621.6 175.0L623.2 175.4L624.6 175.0L622.8 174.2L620.9 173.5L622.0 172.5L622.2 171.0L623.1 169.8L623.9 168.0L623.9 166.1L624.9 164.7L625.4 163.1L624.0 163.7L622.3 163.3L620.9 163.9L619.0 163.4L617.2 162.4L615.3 162.2L613.5 161.7L612.1 161.1L610.9 160.2L609.8 159.1L607.9 158.8L606.1 159.4L604.4 159.8L602.6 159.5L600.9 159.4L599.4 159.6L598.0 160.4L596.4 160.2L595.0 160.9L593.5 161.4L592.2 162.3L590.6 162.7L589.1 163.1L587.4 163.8L586.1 165.0L584.8 166.3L583.1 166.9L581.6 168.0L580.2 169.4L578.7 170.6L577.3 171.5L575.8 172.1L574.3 172.8L572.9 173.7L571.2 173.4L569.8 174.0L569.0 173.1L569.1 172.0L570.5 171.3L572.0 170.6L573.1 169.7L574.7 169.4L575.7 168.3L577.1 167.1L578.7 166.1L576.9 165.8L575.0 166.1L573.6 165.1L572.0 164.6L572.8 163.2L573.5 161.7L574.8 160.8L576.2 160.0L577.2 158.7L578.2 157.4L579.9 157.0L580.9 155.7L581.8 154.5L582.8 153.5L583.1 152.0L582.4 150.6L582.4 149.1L580.7 148.1L579.0 147.2L577.2 146.4L575.2 146.3L573.3 146.2L571.3 146.1L569.5 146.9L567.6 147.6L566.1 148.8L564.8 150.3L563.1 151.3L562.2 152.9L560.7 153.8L559.4 155.0L558.0 155.3L556.6 155.6L555.5 156.5M555.5 188.3L556.7 187.4L558.1 186.8L559.4 186.1L560.9 186.1L562.4 185.9L563.9 186.0L565.4 185.8L566.9 186.4L568.3 187.0L569.8 187.6L571.4 188.0L573.0 188.7L574.3 189.8L576.0 189.5L577.7 190.1L579.4 189.8L581.2 189.6L582.9 190.2L584.6 190.6L586.1 190.9L587.6 191.4L589.1 191.7L588.7 193.2L587.7 194.4L587.6 196.0L585.9 196.2L584.6 197.3L583.1 198.0L581.7 198.6L580.1 198.1L578.7 198.7L577.1 198.8L575.8 199.7L574.3 200.2L572.7 200.2L571.2 200.5L569.8 201.3L568.2 201.2L566.9 202.3L565.4 202.4L564.1 203.7L562.2 204.1L560.9 205.4L559.8 206.3L558.6 207.1L557.2 207.6L556.7 209.0L555.5 209.8M555.5 229.1L556.8 230.3L557.2 232.0L557.7 233.6L558.2 235.2L559.4 236.5L560.2 237.9L560.5 239.7L561.7 240.9L562.5 242.4L563.0 244.0L563.9 245.4L564.2 247.1L565.7 248.2L566.1 249.8L567.0 251.5L566.9 253.5L568.6 254.3L569.8 255.7L571.6 256.3L572.8 257.6L574.3 258.7L575.8 259.4L577.0 260.4L578.0 261.7L578.6 263.1L578.7 264.6L577.2 265.4L575.7 266.1L574.4 265.2L572.6 265.6L571.3 264.6L569.9 263.4L568.3 262.4L567.1 261.3L565.4 260.9L564.0 260.3L562.4 260.2L560.5 260.6L558.7 260.2L557.3 261.3L555.5 261.7M566.0 263.5L567.6 264.4L569.5 264.4L571.0 265.5L572.8 265.8L574.3 266.8L576.0 267.3L574.7 267.6L573.3 267.0L572.0 267.6L570.4 266.7L568.8 266.0L567.0 265.8L566.4 264.7L566.0 263.5ZM555.5 266.1L557.5 266.0L559.4 266.1L560.9 266.5L562.6 266.6L563.9 267.6L565.3 268.3L566.8 268.5L568.3 268.9L569.8 269.1L571.8 269.3L573.7 269.8L575.7 269.8L577.0 271.2L578.7 272.0L577.8 273.8L577.2 275.7L575.8 276.4L574.1 276.3L572.8 277.2L571.4 277.9L569.9 278.6L568.3 278.7L566.9 279.5L565.4 279.7L563.9 280.2L562.3 280.3L561.0 281.4L559.4 281.7L558.0 282.0L556.9 282.8L555.5 283.0M574.3 275.5L572.8 276.0L571.3 275.6L569.8 275.9L568.4 276.7L566.7 276.2L565.5 277.4L563.9 277.4L562.4 278.1L560.8 278.5L559.4 279.4L557.4 279.8L555.8 281.0L556.8 282.1L558.0 283.0L559.4 283.5L560.9 283.6L562.4 283.9L564.4 284.0L566.3 283.1L568.3 283.1L569.8 283.5L571.3 283.6L572.8 283.7L574.3 283.9L575.8 284.6L577.5 284.9L578.7 286.1L580.2 285.7L581.6 285.0L583.1 284.6L583.8 285.4L584.6 286.1L583.2 286.9L581.7 287.6L579.9 288.3L578.7 289.8L579.3 291.7L580.2 293.5L578.6 294.5L577.2 295.7L577.9 297.1L578.0 298.7L576.9 299.9L575.7 300.9L575.6 302.9L576.5 304.6L575.1 305.5L573.5 306.1L574.2 307.1L574.3 308.3L572.8 308.9L571.4 309.7L569.8 309.8L569.1 310.8L569.1 312.0L567.6 312.1L566.2 312.8L564.6 312.8L563.4 313.8L563.2 315.3L562.4 316.5L561.8 318.0L560.9 319.4L559.6 320.1L559.2 321.7L558.0 322.4L557.5 324.0L556.5 325.4L556.1 326.5L555.5 327.6M574.4 345.6L575.4 346.6L576.4 347.5L577.8 347.8L578.7 348.8L580.0 349.4L579.0 350.6L578.9 352.2L579.0 354.0L578.3 355.6L577.8 357.0L577.6 358.6L577.2 360.0L576.9 361.9L575.8 363.6L575.6 365.6L575.2 367.1L574.0 368.3L573.9 370.0L573.3 371.5L572.4 372.9L571.7 374.4L570.5 375.7L569.6 377.2L568.9 378.9L568.6 380.4L567.2 381.4L566.7 382.8L566.8 384.8L566.1 386.7L565.7 388.1L565.0 389.4L563.8 388.9L563.3 387.8L563.2 386.1L562.8 384.4L561.5 383.5L560.6 382.2L559.0 381.0L557.8 379.4L557.0 377.7L556.1 376.1L555.9 374.2L555.9 372.2L556.0 370.7L556.1 369.3L556.1 367.8L557.0 366.4L558.0 365.0L558.3 363.3L559.5 362.1L559.9 360.4L560.6 358.9L561.6 357.5L562.5 356.0L563.3 354.4L564.1 353.0L565.4 352.1L566.1 350.6L567.2 349.1L568.9 348.3L570.5 348.2L571.7 347.2L573.0 346.4ZM837.8 31.5L837.8 33.3L837.5 35.1L837.5 36.9L837.0 38.4L836.5 39.9L835.8 41.3L835.6 42.9L834.4 44.6L834.1 46.6L834.9 48.4L835.7 50.2L837.0 51.7L837.3 53.6L837.8 55.4L837.3 56.9L836.4 58.3L836.3 59.9L835.3 61.5L835.2 63.3L834.8 65.1L834.9 66.6L835.8 67.9L835.6 69.5L834.8 70.9L834.7 72.4L834.3 73.9L834.1 75.4L834.7 77.1L834.5 78.9L834.8 80.6L835.8 81.8L837.0 82.9L837.4 81.2L838.4 79.9L839.3 78.4L840.3 77.3L841.0 76.1L841.5 74.7L843.1 73.8L844.4 72.5L846.2 73.0L848.1 73.2L849.4 74.4L851.1 74.7L851.5 76.1L852.9 76.9L853.2 78.4L853.8 79.7L854.1 81.0L854.0 79.5L855.4 78.4L855.4 76.9L855.4 75.1L854.7 73.5L854.8 71.7L853.2 71.3L851.9 70.3L850.7 69.3L850.0 67.8L848.9 66.6L847.9 65.4L846.5 64.5L845.9 62.9L845.1 61.5L843.8 60.5L843.0 59.1L842.6 57.4L843.3 55.7L842.6 54.0L843.7 52.4L844.4 50.7L844.8 48.8L845.9 47.5L846.4 45.9L846.6 44.2L847.8 42.9L849.2 41.9L850.8 41.2L852.2 40.2L854.1 40.6L855.9 39.9L857.7 39.5L859.6 39.9L860.9 40.9L862.5 41.2L864.0 41.9L865.6 42.1L867.1 43.3L868.7 44.4L870.0 45.8L870.7 47.3L869.6 45.9L868.4 44.6L867.8 42.9L866.8 41.5L866.0 39.9L865.5 38.1L864.1 36.9L863.8 34.9L862.6 33.3L861.9 31.5M834.4 87.4L833.3 88.4L832.2 89.2L830.7 89.6L831.0 91.4L832.0 93.0L832.2 94.8L832.3 96.6L833.1 98.2L833.0 100.0L831.7 101.5L831.3 103.4L830.7 105.2L830.2 106.8L829.7 108.3L828.5 109.6L827.9 111.3L827.6 113.0L827.8 114.8L826.4 116.0L824.8 117.0L823.0 117.2L821.4 116.0L819.6 116.3L817.8 115.5L815.9 115.6L815.2 116.7L814.4 117.8L815.8 118.6L816.7 120.0L815.3 120.5L814.0 121.0L813.0 122.2L811.9 123.1L810.6 123.8L809.3 124.4L808.4 125.8L808.0 127.3L807.8 128.9L808.1 130.4L809.2 131.4L810.0 132.6L810.1 134.4L809.0 136.0L809.3 137.8L810.2 139.1L811.5 140.0L813.1 139.9L814.4 138.8L815.9 138.5L817.0 137.6L818.6 137.5L819.6 136.3L821.6 136.0L823.3 134.8L823.7 133.7L824.8 133.3L823.3 133.0L822.1 132.2L821.1 131.1L819.3 130.2L817.4 129.6L815.8 129.5L814.4 128.9L813.7 127.4L815.0 126.3L816.7 125.9L818.2 126.4L819.5 127.4L821.1 127.4L822.6 127.7L824.1 128.1L825.0 126.8L826.3 125.9L827.8 125.2L829.5 124.7L831.2 124.5L833.0 124.4L834.5 124.4L836.0 124.5L837.4 125.2L839.0 125.8L840.5 126.4L841.9 127.4L843.5 128.1L845.1 129.0L846.3 130.4L848.0 131.4L849.6 132.6L851.5 133.3L852.1 131.4L853.0 129.6L853.6 127.9L854.9 126.6L855.9 125.2L856.8 123.8L858.1 122.9L859.6 122.2L861.0 121.5L862.7 121.6L864.1 120.7L865.5 120.0L867.0 120.2L868.5 120.0L869.9 119.2L871.5 119.4L873.0 119.3L874.5 119.0L875.7 118.1L876.7 117.0L878.5 116.6L880.4 116.3L882.2 115.3L884.1 114.8L882.2 115.1L880.4 114.8L879.3 114.0L878.1 113.3L877.7 111.9L877.4 110.4L877.9 108.8L878.9 107.4L878.0 105.7L878.1 103.7L876.9 104.7L875.7 105.8L875.2 107.4L873.3 107.3L871.5 108.1L870.0 108.1L868.5 108.2L867.0 108.1L865.4 108.0L864.2 106.7L862.6 106.7L860.8 106.3L859.0 106.2L857.4 105.2L856.4 104.0L854.9 103.6L853.6 102.7L852.2 102.2L850.9 101.1L849.4 100.2L848.5 98.6L847.0 97.8L845.9 96.5L844.5 95.5L843.5 94.1L841.9 93.3L840.2 92.3L839.2 90.4L837.4 89.6L836.0 88.4ZM878.9 110.4L879.8 109.0L881.3 108.3L882.6 107.4L883.6 106.0L885.0 104.9L886.3 103.7L887.6 102.7L889.4 102.6L890.7 101.5L892.2 101.9L893.7 102.2L892.1 102.7L890.7 103.7L889.0 104.0L887.8 105.2L886.8 106.2L885.8 107.2L884.8 108.1L884.1 109.4L882.6 109.9L881.9 111.1L880.9 111.9L879.6 111.9ZM897.4 100.7L898.4 99.2L900.1 98.6L901.0 97.0L902.6 96.3L904.1 95.6L905.8 95.3L907.0 94.1L908.1 92.5L909.9 91.4L910.7 89.6L911.3 90.5L912.2 91.1L913.6 90.7L914.4 89.2L915.9 88.9L917.5 88.6L918.9 87.9L920.4 87.4L921.8 87.9L923.3 88.1L922.3 89.3L921.1 90.4L919.6 90.1L918.1 90.7L916.7 91.1L915.1 92.0L913.7 93.3L912.4 93.9L911.2 94.8L910.0 95.6L908.3 96.3L907.0 97.4L905.6 98.5L904.1 99.4L902.8 100.8L901.1 101.5L899.6 101.6L898.1 101.9ZM930.0 86.7L931.3 85.7L932.5 84.8L933.7 83.7L935.3 83.3L936.8 82.6L938.0 81.5L938.0 83.0L936.5 83.6L935.7 85.0L934.4 85.9L933.0 86.1L932.0 87.2L930.7 87.7ZM814.1 142.4L813.1 143.6L812.3 144.8L811.5 146.1L811.1 147.6L810.4 148.8L810.0 150.3L808.9 151.3L809.0 153.0L808.7 154.8L808.9 156.5L807.8 157.6L806.7 158.7L808.5 159.2L810.4 159.4L810.1 160.9L810.8 162.4L810.8 163.9L810.5 165.7L810.1 167.4L809.6 169.1L808.6 170.5L808.0 172.0L807.4 173.5L805.9 174.5L805.3 176.3L803.7 177.2L802.7 178.4L801.4 179.5L800.7 180.9L799.2 181.9L798.6 183.6L797.4 184.9L796.1 186.1L794.4 187.2L793.3 188.9L792.3 190.7L790.6 191.7L789.2 192.2L787.8 192.9L786.7 193.9L785.1 194.5L783.5 195.0L782.2 196.1L780.8 196.9L779.2 197.1L777.8 197.8L776.1 198.1L775.0 199.4L773.9 198.9L772.8 198.3L772.0 196.7L771.7 195.0L771.8 193.9L772.2 192.8L773.3 192.2L774.4 191.7L775.2 190.9L776.1 190.2L775.0 189.8L773.9 190.0L772.4 191.0L770.6 191.1L769.5 192.6L767.8 193.3L768.3 194.4L768.3 195.6L768.9 196.9L768.9 198.3L768.2 199.8L767.2 201.1L766.1 202.8L764.4 203.9L763.5 205.1L762.1 205.6L761.1 206.7L759.7 207.8L759.1 209.4L759.4 210.9L760.0 212.2L758.5 213.1L757.2 214.4L755.5 214.7L753.9 215.6L752.3 215.0L750.6 215.0L749.3 213.8L747.8 212.8L746.3 212.4L744.8 212.8L743.3 213.1L741.9 213.7L740.3 213.3L738.9 213.9L737.5 214.6L735.9 214.3L734.4 214.7L732.8 214.6L731.5 215.4L730.0 215.6L728.7 215.2L727.5 214.3L726.0 214.4L724.6 214.7L723.3 214.1L722.0 213.9L720.6 214.7L718.9 215.0L717.3 216.2L715.6 217.2L714.4 218.4L712.7 219.1L711.5 220.2L710.0 221.1L708.5 222.0L707.1 222.8L705.5 223.6L704.4 225.0L703.1 225.9L701.5 226.5L700.0 227.1L698.9 228.3L697.7 229.0L696.6 229.7L695.6 230.6L694.4 231.9L693.3 233.3L694.6 234.0L695.6 235.0L697.1 234.8L698.3 235.6L700.3 235.7L702.2 235.0L703.8 235.8L705.6 235.6L707.2 236.1L708.9 236.1L710.1 236.2L711.1 235.6L711.3 234.3L710.6 233.3L711.2 232.2L711.7 231.1L713.3 230.0L713.9 231.1L715.0 231.7L714.3 232.7L714.4 233.9L715.5 233.3L716.7 232.8L718.5 232.3L720.0 231.1L721.5 230.1L723.3 230.0L724.9 229.2L726.7 228.9L728.4 228.4L730.0 227.8L731.2 227.4L732.2 226.7L733.8 225.8L735.6 225.6L737.1 225.6L738.5 224.9L740.0 224.8L741.6 225.3L743.3 225.2L744.4 225.7L745.6 226.1L746.8 225.9L747.8 226.7L748.7 225.7L750.0 225.6L751.0 226.1L752.2 226.1L752.3 227.3L751.7 228.3L750.8 229.7L749.4 230.6L748.0 231.4L747.2 232.8L746.6 233.8L746.7 235.0L748.1 235.8L748.9 237.2L749.9 238.4L751.1 239.4L752.3 240.6L753.9 241.1L755.3 241.4L756.7 241.7L757.6 240.3L758.9 239.4L759.9 238.1L760.6 236.7L761.3 235.2L762.2 233.9L763.7 233.2L764.4 231.7L765.8 231.4L767.2 231.1L768.6 230.8L770.0 230.6L770.0 229.4L770.6 228.3L769.2 227.9L768.3 226.7L767.3 225.8L767.2 224.4L768.0 222.8L769.4 221.7L770.7 222.3L771.7 223.3L772.3 224.6L773.3 225.6L775.0 225.9L776.7 226.1L778.5 226.2L780.0 225.3L781.6 225.4L783.0 226.2L784.4 226.7L785.5 227.0L786.7 227.2L787.4 226.3L788.3 225.6L789.4 224.4L790.0 222.8L791.2 221.8L792.2 220.6L792.8 221.5L793.9 221.7L794.5 222.7L794.4 223.9L795.2 224.9L795.6 226.1L796.8 225.7L797.8 225.0L798.4 223.8L799.4 222.8L800.6 222.0L801.1 220.6L802.7 220.4L803.9 219.4L804.8 218.3L805.6 217.2L806.0 215.8L807.2 215.0L808.6 214.5L809.4 213.3L810.6 214.4L809.9 215.3L808.9 215.6L808.1 216.7L807.2 217.8L807.2 219.2L806.7 220.6L807.3 221.7L807.8 222.8L809.4 222.8L810.8 222.4L811.7 221.1L813.3 220.7L814.4 219.4L815.6 218.3L816.1 216.7L817.2 215.7L817.8 214.4L819.4 213.3L821.1 212.8L820.0 211.7L818.9 210.6L818.0 209.3L817.8 207.8L817.6 206.0L818.3 204.4L819.2 202.6L819.4 200.6L820.3 199.2L821.5 198.0L821.9 196.2L822.8 194.6L823.0 192.8L823.0 190.9L822.3 189.3L821.5 187.6L821.4 185.8L822.3 184.2L822.2 182.4L823.6 181.6L824.5 180.2L825.9 179.4L827.4 179.1L828.6 178.4L829.6 177.2L830.8 176.0L831.4 174.4L831.9 172.8L832.5 171.3L834.0 170.5L834.8 169.1L835.0 167.4L835.6 165.7L835.6 163.9L835.7 162.3L834.4 161.1L834.8 159.4L834.1 158.0L833.2 156.6L833.1 154.8L831.9 153.5L830.9 152.3L830.0 151.0L828.9 149.8L827.9 148.1L827.4 146.1L828.0 144.7L827.5 143.1L828.1 141.7L827.1 141.2L826.7 140.2L825.8 141.2L825.2 142.4L824.1 141.1L823.7 139.4L822.4 139.8L821.5 140.9L820.7 142.6L821.1 144.4L820.7 146.1L819.5 146.1L818.5 146.9L818.6 145.4L818.5 143.9L818.5 142.4L817.4 143.2L816.3 143.9L815.0 143.4ZM787.6 186.6L788.0 184.8L788.3 183.0L789.3 181.8L790.2 180.4L791.9 180.0L791.3 181.2L791.5 182.6L790.2 184.0L789.6 185.8L788.4 185.8ZM757.2 221.7L758.0 220.6L758.7 219.5L759.4 218.3L760.8 217.5L761.7 216.1L762.8 217.2L761.6 218.0L761.1 219.4L759.7 220.3L758.9 221.7ZM813.3 207.4L814.5 208.0L815.8 207.8L816.1 209.4L815.0 209.3L814.0 209.0ZM708.9 242.2L710.4 241.3L712.2 241.1L713.2 239.9L714.4 238.9L715.3 237.5L716.7 236.7L717.9 235.6L719.4 235.0L720.9 234.6L722.2 233.9L723.2 233.2L724.4 233.3L726.0 232.4L727.8 231.7L729.3 230.8L731.1 230.6L732.7 231.4L734.4 231.1L736.1 231.4L737.8 231.7L739.5 231.7L741.1 232.2L741.7 233.3L742.2 234.4L741.6 235.7L741.7 237.2L741.0 238.2L740.0 238.9L738.7 239.8L737.8 241.1L737.1 242.3L736.1 243.3L735.1 243.0L734.4 242.2L733.5 241.3L732.2 241.1L730.7 241.3L729.4 240.6L727.9 240.7L726.7 241.7L725.7 242.9L724.4 243.9L723.4 244.8L722.8 246.1L722.0 247.5L721.1 248.9L721.3 250.1L720.6 251.1L719.0 251.0L717.8 250.0L716.4 249.5L715.6 248.3L714.6 247.4L714.4 246.1L713.5 245.2L713.3 243.9L712.1 243.8L711.1 243.3L709.9 243.0ZM743.5 227.3L744.8 227.5L745.8 228.3L745.3 229.8L744.6 231.2L742.8 230.6L742.8 228.9ZM675.0 244.4L676.7 243.3L678.3 242.2L679.4 241.1L680.8 240.5L682.2 240.0L683.7 239.2L685.0 238.1L686.7 237.8L688.2 237.2L689.8 237.1L691.1 236.1L692.7 235.8L694.4 235.6L695.1 236.5L696.1 236.7L695.9 237.9L696.7 238.9L697.9 238.6L698.9 239.4L700.5 238.9L702.2 239.4L703.3 240.2L704.4 241.1L703.7 242.1L703.9 243.3L705.0 243.8L706.1 244.4L706.7 245.5L707.8 246.1L707.3 247.2L707.2 248.3L706.9 250.2L705.6 251.7L705.0 253.4L704.4 255.0L703.7 256.6L703.3 258.3L703.1 260.1L702.2 261.7L702.0 263.5L701.1 265.0L700.1 266.3L699.4 267.8L698.4 268.8L697.2 269.4L695.6 268.3L694.6 269.3L693.9 270.6L693.0 271.9L691.7 272.8L690.5 272.3L690.0 271.1L690.4 269.6L691.1 268.3L691.2 266.9L690.6 265.6L690.1 266.5L689.4 267.2L688.8 268.3L688.3 269.4L687.2 269.1L686.1 269.4L685.1 268.8L684.4 267.8L685.6 266.6L686.1 265.0L685.1 263.5L685.0 261.7L684.4 260.6L683.9 259.4L684.6 258.4L685.6 257.8L686.5 256.9L687.8 256.7L689.0 255.8L689.4 254.4L689.7 252.9L690.6 251.7L690.3 249.9L689.4 248.3L688.6 247.2L687.8 246.1L686.1 245.6L685.1 246.8L685.0 248.3L685.5 249.7L686.7 250.6L686.9 252.1L686.1 253.3L684.7 253.8L683.9 255.0L683.0 256.1L682.2 257.2L682.2 255.5L681.7 253.9L680.5 253.1L680.0 251.7L679.9 250.2L679.4 248.9L678.8 247.9L677.8 247.2L676.7 245.6L676.1 244.6ZM633.6 243.5L634.4 242.4L635.5 241.6L637.4 241.6L639.0 240.6L640.8 241.1L642.6 240.6L643.9 241.8L642.7 242.5L642.3 243.7L640.4 243.9L638.7 244.8L636.8 244.4L635.0 244.9ZM708.9 90.3L710.6 89.7L712.4 89.6L714.1 89.2L716.1 89.4L717.8 90.3L718.1 91.9L719.0 93.2L718.6 94.6L717.6 95.6L717.0 96.9L715.4 97.7L714.6 99.2L713.3 100.3L712.0 99.2L710.4 99.1L709.8 97.7L708.9 96.6L708.1 95.4L707.9 93.9L707.4 92.5L708.2 91.5ZM695.7 275.7L695.5 277.1L694.9 278.3L694.3 279.6L693.7 280.9M687.6 281.4L688.6 280.1L690.1 280.3L690.6 281.7L689.5 282.8L688.1 282.6Z"/>
<path d="M637.6 195.5L637.1 196.5L636.4 197.4L636.0 198.4L635.1 199.3L635.6 200.4L636.3 201.3L636.9 202.2L637.6 203.1L637.9 204.2L639.0 204.9L639.0 206.1L639.5 207.1L639.9 208.1L640.6 209.0" stroke-width="2.2"/>
<path d="M639.4 212.5L639.0 213.5L638.2 214.4L638.0 215.5L637.5 216.5L638.3 217.7L637.5 218.7L638.2 219.8L637.4 220.7L637.0 221.7L637.0 223.1L635.7 224.0L635.8 225.4L635.1 226.3L635.0 227.4L634.7 228.4L634.5 229.5" stroke-width="2.6"/>
<path d="M634.5 229.5L635.6 229.3L636.5 230.0L637.6 229.9L638.6 229.5L639.4 228.8L640.6 228.8L641.0 227.3L641.9 226.8L643.1 226.7L644.3 226.0L645.6 226.1L646.9 226.5L648.0 226.3L648.4 224.9L649.7 225.0L650.6 224.4L651.6 223.7L652.7 223.7L653.9 223.8L655.0 223.7L656.1 223.9L656.9 223.2L657.5 221.8L658.7 222.3L659.9 221.7L661.1 221.3L662.4 221.8L663.1 222.9L664.1 223.4L665.4 223.5" stroke-width="2.6"/>
<path d="M616.5 181.7L617.7 181.6L618.2 182.8L619.2 183.2L620.2 183.4L621.0 184.6L622.6 184.3L623.7 184.9L624.6 185.8L625.9 185.8L626.9 185.2L627.9 184.3L629.1 184.2" stroke-width="2.2"/>
<path d="M633.5 185.4L634.5 186.2L635.9 185.1L636.8 186.3L638.0 186.1L639.3 186.5L639.5 188.1L640.9 188.3L641.3 189.7L639.9 190.7L640.2 192.0L640.5 193.0L640.8 194.0L641.1 195.0L642.2 195.5L641.5 196.4L640.5 196.8L639.4 197.2L638.2 197.0L636.9 197.6L635.7 197.4" stroke-width="2.0"/>
<path d="M623.9 166.5L623.8 167.6L623.4 168.7L623.1 169.8L622.7 170.8L622.1 171.7L621.6 172.6L621.0 173.5" stroke-width="1.8"/>
<path d="M572.2 164.8L573.1 165.2L573.9 165.9L575.0 166.0L576.2 166.5L577.3 165.8L578.5 166.0" stroke-width="2.0"/>
<path d="M569.3 172.2L570.0 171.4L571.2 171.3L572.0 170.6L572.8 169.9L573.7 169.2L574.8 168.9L575.7 168.4" stroke-width="1.8"/>
<path d="M578.7 198.7L579.8 198.7L581.0 198.7L582.0 198.2L583.1 198.0L584.2 197.6L585.2 197.0L586.6 197.2L587.4 196.2" stroke-width="1.8"/>
<path d="M560.9 205.4L562.1 205.2L562.8 204.4L563.8 203.9L564.8 203.4L565.4 202.4L566.4 201.8L567.6 202.0L568.8 202.0L569.8 201.3L571.0 201.5L572.1 200.8L573.1 200.1L574.3 200.2" stroke-width="1.7"/>
<path d="M584.6 286.1L583.9 287.2L582.5 286.8L581.7 287.6L580.5 288.1L579.7 289.1L578.7 289.8L579.6 290.5L578.9 291.9L579.3 292.8L580.2 293.5L579.2 294.2L578.2 295.0L577.2 295.7L578.0 296.6L578.7 297.4L578.0 298.7L577.4 299.6L576.3 300.0L575.7 300.9L576.8 302.0L575.7 303.5L576.5 304.6L575.7 305.6L574.7 306.1L573.5 306.1L574.8 306.9L574.3 308.3" stroke-width="2.6"/>
<path d="M574.3 308.3L573.0 308.1L572.2 309.5L571.1 310.1L569.8 309.8L568.8 310.7L569.1 312.0L568.1 312.6L566.9 312.9L565.7 312.4L564.6 312.8L564.2 313.8L563.0 314.4L563.3 315.8L562.4 316.5L561.3 317.2L561.6 318.5L560.9 319.4L560.1 320.1L559.0 320.5L558.5 321.5L558.0 322.4L557.0 323.1L556.7 324.3L556.5 325.4" stroke-width="1.9"/>
<path d="M566.0 263.5L566.9 264.2L567.9 264.6L568.9 265.0L570.1 264.8L571.0 265.5L572.0 265.9L573.0 266.2L574.0 266.6L575.1 266.7L576.0 267.3" stroke-width="1.8"/>
<path d="M675.5 244.6L676.0 245.7L676.6 246.7L677.8 247.2L679.0 247.7L679.4 248.9L678.8 250.0L680.3 250.7L680.0 251.7L680.4 252.6L681.7 252.8L681.7 253.9L681.5 255.0L682.7 255.8L682.4 257.0" stroke-width="2.4"/>
<path d="M684.6 246.5L685.1 247.4L684.7 248.7L685.6 249.5L685.4 250.6L686.6 251.4L686.5 252.5L685.7 253.1L685.6 254.1L685.4 255.0L685.2 256.1L683.7 255.9L683.5 257.0" stroke-width="2.0"/>
<path d="M686.5 246.0L687.2 247.0L688.3 247.5L689.1 248.3L689.6 249.3L689.8 250.5L689.6 251.5L690.2 252.5L689.6 253.5L688.8 254.2L688.3 255.0L688.0 256.0" stroke-width="1.8"/>
<path d="M689.8 265.0L690.0 265.9L690.3 266.7L690.8 267.5L690.2 268.4L690.7 269.6L690.2 270.5" stroke-width="2.2"/>
<path d="M716.7 233.0L717.6 232.1L718.7 231.5L720.0 231.3L721.1 231.0L722.1 230.3L723.3 230.2L724.3 229.5L725.6 229.4L726.7 229.1L727.8 228.7L728.8 228.1L730.0 228.0" stroke-width="1.8"/>
<path d="M735.6 225.8L736.7 225.6L737.8 225.2L739.0 225.5L740.0 225.0L741.1 224.9L742.2 225.3L743.3 225.4L744.2 225.6L745.1 225.9L746.0 226.3" stroke-width="1.8"/>
<path d="M722.0 214.2L723.0 214.3L724.0 214.2L725.0 214.1L726.0 214.6L727.1 215.0L728.4 215.0L729.5 215.5" stroke-width="1.8"/>
<path d="M807.2 217.8L807.5 218.8L807.2 219.7L806.8 220.6L807.5 221.6L808.0 222.6" stroke-width="1.7"/>
<path d="M818.5 142.6L818.8 143.6L818.7 144.6L818.7 145.7L818.5 146.7L819.7 146.7L820.7 146.0" stroke-width="1.7"/>
<path d="M878.3 113.3L879.0 113.8L879.8 114.4L880.6 114.8L881.7 115.1L882.9 114.6L884.0 114.8" stroke-width="1.7"/>
<path d="M703.1 120.2L704.1 119.5L705.2 118.8L706.1 118.0L707.1 117.6L707.9 116.9L708.3 115.9L708.6 117.1L709.8 117.7L710.4 118.7L710.8 119.8L711.9 120.1L712.6 120.9" stroke-width="1.9"/>
<g fill="#000" stroke="none">
<ellipse cx="609" cy="91" rx="3.2" ry="1.1" transform="rotate(25 609 91)"/>
<ellipse cx="641.6" cy="111.8" rx="2.3" ry="1.4" transform="rotate(30 641.6 111.8)"/>
<ellipse cx="668" cy="108.6" rx="2.6" ry="1.4" transform="rotate(-55 668 108.6)"/>
<ellipse cx="617" cy="117.2" rx="1.6" ry="1.6" transform="rotate(0 617 117.2)"/>
<ellipse cx="620.2" cy="150.6" rx="3" ry="1" transform="rotate(-20 620.2 150.6)"/>
<ellipse cx="616.7" cy="116.5" rx="1" ry="1.6" transform="rotate(0 616.7 116.5)"/>
<ellipse cx="825.6" cy="92" rx="1.5" ry="1.3" transform="rotate(0 825.6 92)"/>
<ellipse cx="803.3" cy="130.4" rx="1.2" ry="1.6" transform="rotate(10 803.3 130.4)"/>
<ellipse cx="896.6" cy="109.6" rx="2.3" ry="1.3" transform="rotate(-15 896.6 109.6)"/>
<ellipse cx="673.8" cy="229.8" rx="1.6" ry="4.5" transform="rotate(20 673.8 229.8)"/>
<ellipse cx="678.5" cy="237.5" rx="1.3" ry="1.2" transform="rotate(0 678.5 237.5)"/>
<ellipse cx="670.3" cy="247.5" rx="1.2" ry="2" transform="rotate(30 670.3 247.5)"/>
<ellipse cx="666.1" cy="251.4" rx="2" ry="1.3" transform="rotate(-20 666.1 251.4)"/>
<ellipse cx="677.5" cy="243.8" rx="1.5" ry="1.2" transform="rotate(0 677.5 243.8)"/>
<ellipse cx="680" cy="246" rx="1.2" ry="1.5" transform="rotate(0 680 246)"/>
<ellipse cx="675" cy="307.4" rx="4" ry="1.5" transform="rotate(-32 675 307.4)"/>
<ellipse cx="668.8" cy="314.3" rx="1.1" ry="1.6" transform="rotate(0 668.8 314.3)"/>
<ellipse cx="656.6" cy="330.6" rx="5.6" ry="1.6" transform="rotate(-45 656.6 330.6)"/>
<ellipse cx="623" cy="352.4" rx="2" ry="1.4" transform="rotate(30 623 352.4)"/>
<ellipse cx="603.2" cy="358.4" rx="2.2" ry="1.5" transform="rotate(-10 603.2 358.4)"/>
<ellipse cx="608.5" cy="356.6" rx="2.1" ry="1.4" transform="rotate(-40 608.5 356.6)"/>
<ellipse cx="723.5" cy="206" rx="1.6" ry="1.3" transform="rotate(0 723.5 206)"/>
</g></g></g>
<rect x="85.5" y="31.5" width="383" height="383" fill="none" stroke="#000" stroke-width="1"/>
<text x="149.7" y="424.8" font-size="8" text-anchor="middle" letter-spacing="-0.22">125°E</text>
<text x="213.6" y="424.8" font-size="8" text-anchor="middle" letter-spacing="-0.22">130°E</text>
<text x="277.4" y="424.8" font-size="8" text-anchor="middle" letter-spacing="-0.22">135°E</text>
<text x="341.2" y="424.8" font-size="8" text-anchor="middle" letter-spacing="-0.22">140°E</text>
<text x="405.1" y="424.8" font-size="8" text-anchor="middle" letter-spacing="-0.22">145°E</text>
<text x="81.1" y="352.8" font-size="8" text-anchor="end" letter-spacing="-0.22">25°N</text>
<text x="81.1" y="288.9" font-size="8" text-anchor="end" letter-spacing="-0.22">30°N</text>
<text x="81.1" y="225.1" font-size="8" text-anchor="end" letter-spacing="-0.22">35°N</text>
<text x="81.1" y="161.3" font-size="8" text-anchor="end" letter-spacing="-0.22">40°N</text>
<text x="81.1" y="97.4" font-size="8" text-anchor="end" letter-spacing="-0.22">45°N</text>
<rect x="555.5" y="31.5" width="383" height="383" fill="#fff"/>
<g clip-path="url(#cr)">
<clipPath id="cov"><path d="M804.8 93.0C808.5 91.5 813.2 89.9 817.8 89.3C822.4 88.7 828.3 88.7 832.6 89.3C836.9 89.9 840.0 92.1 843.7 93.0C847.4 93.9 850.5 94.8 854.8 94.8C859.1 94.8 865.3 93.0 869.6 93.0C873.9 93.0 877.3 94.2 880.7 94.8C884.1 95.4 887.2 95.8 890.0 96.7C892.8 97.6 895.2 98.6 897.4 100.4C899.6 102.2 901.7 105.0 903.0 107.8C904.3 110.6 904.9 113.9 905.2 117.0C905.5 120.1 905.5 123.2 904.8 126.3C904.1 129.4 903.0 133.1 901.1 135.6C899.2 138.1 896.2 139.6 893.7 141.1C891.2 142.6 889.1 143.7 886.3 144.8C883.5 145.9 880.1 147.1 877.0 147.6C873.9 148.1 870.9 147.6 867.8 147.6C864.7 147.6 861.0 147.3 858.5 147.6C856.0 147.9 854.5 148.5 853.0 149.4C851.5 150.3 850.2 151.7 849.3 153.1C848.4 154.5 847.1 156.1 847.4 157.8C847.7 159.5 849.9 161.5 851.1 163.3C852.3 165.2 853.7 166.7 854.8 168.9C855.9 171.1 857.3 173.8 857.6 176.3C857.9 178.8 857.5 181.5 856.7 183.7C855.9 185.9 854.2 187.8 853.0 189.3C851.8 190.9 850.6 191.2 849.3 193.0C848.0 194.8 845.9 196.1 845.0 200.0C844.1 203.9 844.5 211.7 843.7 216.3C842.9 220.9 841.5 224.6 840.0 227.4C838.5 230.2 836.6 231.2 834.4 233.0C832.2 234.8 829.8 237.3 827.0 238.5C824.2 239.7 820.6 239.2 817.8 240.4C815.0 241.6 812.9 244.4 810.4 245.9C807.9 247.4 805.8 248.7 803.0 249.6C800.2 250.5 796.8 251.2 793.7 251.5C790.6 251.8 787.2 251.2 784.4 251.5C781.6 251.8 779.5 252.4 777.0 253.3C774.5 254.2 772.1 255.4 769.6 257.0C767.1 258.6 764.4 261.1 762.2 262.6C760.1 264.2 758.9 265.5 756.7 266.3C754.6 267.1 752.1 266.9 749.3 267.2C746.5 267.5 742.8 267.6 740.0 268.1C737.2 268.6 734.8 269.1 732.6 270.0C730.4 270.9 728.2 271.5 727.0 273.7C725.8 275.9 726.1 280.0 725.2 283.0C724.3 286.0 723.2 288.8 721.5 291.7C719.8 294.6 717.1 297.8 715.0 300.2C712.9 302.6 710.6 303.9 709.1 306.1C707.6 308.3 707.1 311.0 706.1 313.5C705.1 316.0 704.6 318.9 703.1 320.9C701.6 322.9 699.2 324.0 697.2 325.4C695.2 326.8 693.0 327.6 691.3 329.1C689.6 330.6 688.1 332.5 686.9 334.3C685.7 336.1 684.9 338.2 683.9 340.2C682.9 342.2 681.9 344.1 680.9 346.1C679.9 348.1 679.2 350.1 678.0 352.0C676.8 353.9 675.2 355.7 673.5 357.2C671.8 358.7 670.1 360.1 667.6 360.9C665.1 361.6 661.7 361.6 658.7 361.7C655.7 361.8 652.3 361.9 649.8 361.7C647.3 361.5 645.6 361.0 643.9 360.6C642.2 360.2 640.5 359.1 639.4 359.4C638.3 359.7 637.8 360.8 637.2 362.2C636.7 363.6 636.8 365.9 636.1 367.8C635.4 369.7 634.1 371.5 632.8 373.3C631.5 375.1 629.8 377.4 628.3 378.9C626.8 380.4 625.4 381.3 623.9 382.2C622.4 383.1 621.2 384.1 619.4 384.4C617.5 384.7 615.4 383.9 612.8 383.9C610.2 383.9 606.5 384.5 603.9 384.4C601.3 384.3 599.2 384.2 597.2 383.3C595.2 382.4 593.6 380.6 591.7 378.9C589.9 377.2 587.8 375.1 586.1 373.3C584.4 371.5 582.9 369.7 581.7 367.8C580.5 365.9 579.5 364.2 578.9 362.2C578.3 360.2 578.0 357.7 578.3 355.6C578.6 353.5 580.2 351.2 580.6 349.4C581.0 347.6 580.5 346.4 580.9 344.6C581.3 342.8 581.7 340.3 583.1 338.7C584.5 337.1 586.9 336.1 589.1 335.0C591.3 333.9 594.0 333.0 596.5 332.0C599.0 331.0 601.4 329.5 603.9 329.1C606.4 328.7 609.1 329.3 611.3 329.8C613.5 330.3 615.5 332.0 617.2 332.0C618.9 332.0 620.2 331.2 621.7 329.8C623.2 328.4 624.6 325.9 626.1 323.9C627.6 321.9 629.1 320.0 630.6 318.0C632.1 316.0 633.5 313.7 635.0 312.0C636.5 310.3 637.9 309.5 639.4 307.6C640.9 305.8 642.6 303.0 643.9 300.9C645.1 298.8 645.7 297.0 646.9 295.0C648.1 293.0 649.4 290.9 651.3 289.1C653.1 287.3 656.0 285.9 658.0 284.0C660.0 282.1 662.0 279.7 663.0 278.0C664.0 276.3 664.2 276.0 664.1 273.7C664.0 271.4 663.1 267.2 662.2 264.4C661.3 261.6 659.6 259.8 658.5 257.0C657.4 254.2 656.2 251.2 655.7 247.8C655.2 244.4 655.2 239.8 655.7 236.7C656.2 233.6 656.8 231.5 658.5 229.3C660.2 227.1 663.4 225.2 665.9 223.7C668.4 222.1 671.1 221.4 673.3 220.0C675.5 218.6 676.7 217.0 678.9 215.4C681.1 213.8 684.1 212.7 686.3 210.7C688.5 208.7 690.3 205.8 691.9 203.3C693.5 200.8 693.8 197.8 695.6 195.9C697.5 194.1 700.5 193.4 703.0 192.2C705.5 191.0 707.3 189.1 710.4 188.5C713.5 187.9 717.8 188.7 721.5 188.5C725.2 188.3 729.5 188.5 732.6 187.6C735.7 186.7 737.2 184.1 740.0 183.0C742.8 181.9 746.2 182.0 749.3 181.1C752.4 180.2 756.0 179.2 758.5 177.4C761.0 175.6 761.9 171.7 764.1 170.0C766.3 168.3 769.5 168.4 771.5 167.0C773.5 165.6 775.2 163.7 776.1 161.5C777.0 159.3 776.2 156.6 777.0 154.1C777.8 151.6 779.3 148.7 780.7 146.7C782.1 144.7 785.1 143.8 785.4 142.0C785.7 140.2 782.9 137.9 782.6 135.6C782.3 133.3 782.9 130.6 783.5 128.1C784.1 125.6 786.0 123.2 786.3 120.7C786.6 118.2 785.1 115.8 785.4 113.3C785.7 110.8 786.4 108.4 788.1 105.9C789.8 103.4 792.8 100.7 795.6 98.5C798.4 96.3 801.1 94.5 804.8 93.0Z"/></clipPath>
<path d="M804.8 93.0C808.5 91.5 813.2 89.9 817.8 89.3C822.4 88.7 828.3 88.7 832.6 89.3C836.9 89.9 840.0 92.1 843.7 93.0C847.4 93.9 850.5 94.8 854.8 94.8C859.1 94.8 865.3 93.0 869.6 93.0C873.9 93.0 877.3 94.2 880.7 94.8C884.1 95.4 887.2 95.8 890.0 96.7C892.8 97.6 895.2 98.6 897.4 100.4C899.6 102.2 901.7 105.0 903.0 107.8C904.3 110.6 904.9 113.9 905.2 117.0C905.5 120.1 905.5 123.2 904.8 126.3C904.1 129.4 903.0 133.1 901.1 135.6C899.2 138.1 896.2 139.6 893.7 141.1C891.2 142.6 889.1 143.7 886.3 144.8C883.5 145.9 880.1 147.1 877.0 147.6C873.9 148.1 870.9 147.6 867.8 147.6C864.7 147.6 861.0 147.3 858.5 147.6C856.0 147.9 854.5 148.5 853.0 149.4C851.5 150.3 850.2 151.7 849.3 153.1C848.4 154.5 847.1 156.1 847.4 157.8C847.7 159.5 849.9 161.5 851.1 163.3C852.3 165.2 853.7 166.7 854.8 168.9C855.9 171.1 857.3 173.8 857.6 176.3C857.9 178.8 857.5 181.5 856.7 183.7C855.9 185.9 854.2 187.8 853.0 189.3C851.8 190.9 850.6 191.2 849.3 193.0C848.0 194.8 845.9 196.1 845.0 200.0C844.1 203.9 844.5 211.7 843.7 216.3C842.9 220.9 841.5 224.6 840.0 227.4C838.5 230.2 836.6 231.2 834.4 233.0C832.2 234.8 829.8 237.3 827.0 238.5C824.2 239.7 820.6 239.2 817.8 240.4C815.0 241.6 812.9 244.4 810.4 245.9C807.9 247.4 805.8 248.7 803.0 249.6C800.2 250.5 796.8 251.2 793.7 251.5C790.6 251.8 787.2 251.2 784.4 251.5C781.6 251.8 779.5 252.4 777.0 253.3C774.5 254.2 772.1 255.4 769.6 257.0C767.1 258.6 764.4 261.1 762.2 262.6C760.1 264.2 758.9 265.5 756.7 266.3C754.6 267.1 752.1 266.9 749.3 267.2C746.5 267.5 742.8 267.6 740.0 268.1C737.2 268.6 734.8 269.1 732.6 270.0C730.4 270.9 728.2 271.5 727.0 273.7C725.8 275.9 726.1 280.0 725.2 283.0C724.3 286.0 723.2 288.8 721.5 291.7C719.8 294.6 717.1 297.8 715.0 300.2C712.9 302.6 710.6 303.9 709.1 306.1C707.6 308.3 707.1 311.0 706.1 313.5C705.1 316.0 704.6 318.9 703.1 320.9C701.6 322.9 699.2 324.0 697.2 325.4C695.2 326.8 693.0 327.6 691.3 329.1C689.6 330.6 688.1 332.5 686.9 334.3C685.7 336.1 684.9 338.2 683.9 340.2C682.9 342.2 681.9 344.1 680.9 346.1C679.9 348.1 679.2 350.1 678.0 352.0C676.8 353.9 675.2 355.7 673.5 357.2C671.8 358.7 670.1 360.1 667.6 360.9C665.1 361.6 661.7 361.6 658.7 361.7C655.7 361.8 652.3 361.9 649.8 361.7C647.3 361.5 645.6 361.0 643.9 360.6C642.2 360.2 640.5 359.1 639.4 359.4C638.3 359.7 637.8 360.8 637.2 362.2C636.7 363.6 636.8 365.9 636.1 367.8C635.4 369.7 634.1 371.5 632.8 373.3C631.5 375.1 629.8 377.4 628.3 378.9C626.8 380.4 625.4 381.3 623.9 382.2C622.4 383.1 621.2 384.1 619.4 384.4C617.5 384.7 615.4 383.9 612.8 383.9C610.2 383.9 606.5 384.5 603.9 384.4C601.3 384.3 599.2 384.2 597.2 383.3C595.2 382.4 593.6 380.6 591.7 378.9C589.9 377.2 587.8 375.1 586.1 373.3C584.4 371.5 582.9 369.7 581.7 367.8C580.5 365.9 579.5 364.2 578.9 362.2C578.3 360.2 578.0 357.7 578.3 355.6C578.6 353.5 580.2 351.2 580.6 349.4C581.0 347.6 580.5 346.4 580.9 344.6C581.3 342.8 581.7 340.3 583.1 338.7C584.5 337.1 586.9 336.1 589.1 335.0C591.3 333.9 594.0 333.0 596.5 332.0C599.0 331.0 601.4 329.5 603.9 329.1C606.4 328.7 609.1 329.3 611.3 329.8C613.5 330.3 615.5 332.0 617.2 332.0C618.9 332.0 620.2 331.2 621.7 329.8C623.2 328.4 624.6 325.9 626.1 323.9C627.6 321.9 629.1 320.0 630.6 318.0C632.1 316.0 633.5 313.7 635.0 312.0C636.5 310.3 637.9 309.5 639.4 307.6C640.9 305.8 642.6 303.0 643.9 300.9C645.1 298.8 645.7 297.0 646.9 295.0C648.1 293.0 649.4 290.9 651.3 289.1C653.1 287.3 656.0 285.9 658.0 284.0C660.0 282.1 662.0 279.7 663.0 278.0C664.0 276.3 664.2 276.0 664.1 273.7C664.0 271.4 663.1 267.2 662.2 264.4C661.3 261.6 659.6 259.8 658.5 257.0C657.4 254.2 656.2 251.2 655.7 247.8C655.2 244.4 655.2 239.8 655.7 236.7C656.2 233.6 656.8 231.5 658.5 229.3C660.2 227.1 663.4 225.2 665.9 223.7C668.4 222.1 671.1 221.4 673.3 220.0C675.5 218.6 676.7 217.0 678.9 215.4C681.1 213.8 684.1 212.7 686.3 210.7C688.5 208.7 690.3 205.8 691.9 203.3C693.5 200.8 693.8 197.8 695.6 195.9C697.5 194.1 700.5 193.4 703.0 192.2C705.5 191.0 707.3 189.1 710.4 188.5C713.5 187.9 717.8 188.7 721.5 188.5C725.2 188.3 729.5 188.5 732.6 187.6C735.7 186.7 737.2 184.1 740.0 183.0C742.8 181.9 746.2 182.0 749.3 181.1C752.4 180.2 756.0 179.2 758.5 177.4C761.0 175.6 761.9 171.7 764.1 170.0C766.3 168.3 769.5 168.4 771.5 167.0C773.5 165.6 775.2 163.7 776.1 161.5C777.0 159.3 776.2 156.6 777.0 154.1C777.8 151.6 779.3 148.7 780.7 146.7C782.1 144.7 785.1 143.8 785.4 142.0C785.7 140.2 782.9 137.9 782.6 135.6C782.3 133.3 782.9 130.6 783.5 128.1C784.1 125.6 786.0 123.2 786.3 120.7C786.6 118.2 785.1 115.8 785.4 113.3C785.7 110.8 786.4 108.4 788.1 105.9C789.8 103.4 792.8 100.7 795.6 98.5C798.4 96.3 801.1 94.5 804.8 93.0Z" fill="#FFE8BA"/>
<g clip-path="url(#cov)">
<path d="M815.2 91.7C816.9 89.6 818.3 89.8 821.0 89.3C823.7 88.8 828.4 88.1 831.5 88.8C834.6 89.5 836.9 92.0 839.6 93.7C842.4 95.4 845.1 98.5 848.0 99.0C850.9 99.5 854.0 97.0 857.0 96.5C860.0 96.0 863.6 95.3 866.0 95.7C868.4 96.1 870.3 97.7 871.5 99.0C872.7 100.3 873.6 102.1 873.0 103.5C872.4 104.9 870.2 107.1 868.0 107.5C865.8 107.9 862.7 106.4 860.0 105.9C857.3 105.4 854.3 104.3 852.0 104.5C849.7 104.7 847.4 105.8 846.0 107.0C844.6 108.2 843.9 110.0 843.7 112.0C843.5 114.0 844.6 116.5 844.6 118.9C844.6 121.3 845.1 125.0 843.7 126.3C842.3 127.6 838.8 127.3 836.3 127.0C833.8 126.7 830.8 124.4 828.9 124.4C827.0 124.4 825.2 125.8 825.2 127.0C825.2 128.2 827.0 130.8 828.9 131.9C830.8 133.0 833.8 133.1 836.3 133.7C838.8 134.3 841.2 135.6 843.7 135.6C846.2 135.6 849.1 133.1 851.1 133.7C853.1 134.3 854.9 136.9 855.5 139.3C856.1 141.7 855.8 145.4 855.0 148.0C854.2 150.6 852.8 153.5 851.0 155.0C849.2 156.5 846.1 157.5 844.0 157.0C841.9 156.5 840.0 154.2 838.1 152.0C836.2 149.8 834.2 145.7 832.6 144.0C831.0 142.3 829.4 141.5 828.5 142.0C827.6 142.5 826.6 145.0 827.0 147.0C827.4 149.0 829.7 151.7 830.7 154.1C831.7 156.5 833.5 159.0 833.0 161.5C832.5 164.0 829.3 166.7 828.0 168.9C826.7 171.2 826.3 172.8 825.2 175.0C824.1 177.2 822.7 179.8 821.5 182.0C820.3 184.2 819.3 186.2 817.8 188.0C816.2 189.8 814.7 191.0 812.2 192.5C809.7 194.0 806.4 195.7 803.0 196.9C799.6 198.1 795.9 198.8 791.9 199.6C787.9 200.4 782.6 200.6 778.9 201.5C775.2 202.4 772.4 203.7 769.6 205.2C766.8 206.7 764.1 208.8 762.2 210.7C760.4 212.5 761.0 216.0 758.5 216.3C756.0 216.6 751.7 212.9 747.4 212.6C743.1 212.3 738.1 213.5 732.6 214.4C727.1 215.3 719.4 215.9 714.1 218.1C708.9 220.3 704.5 224.9 701.1 227.4C697.7 229.9 696.2 231.8 693.7 233.0C691.2 234.2 688.1 233.6 686.3 234.8C684.5 236.0 683.7 237.5 683.0 240.0C682.3 242.5 682.5 246.3 682.0 250.0C681.5 253.7 680.6 257.8 680.0 262.0C679.4 266.2 679.2 271.5 678.5 275.0C677.8 278.5 677.4 281.7 676.0 283.0C674.6 284.3 671.6 283.3 670.0 283.0C668.4 282.7 666.8 283.2 666.5 281.0C666.2 278.8 667.4 273.8 668.0 270.0C668.6 266.2 669.3 262.2 670.0 258.0C670.7 253.8 671.2 248.5 672.0 245.0C672.8 241.5 674.2 239.3 675.0 237.0C675.8 234.7 676.2 233.3 677.0 231.1C677.8 228.9 678.9 226.2 679.8 223.7C680.7 221.2 681.2 218.3 682.6 216.3C684.0 214.3 686.2 213.5 688.1 211.7C690.0 209.8 692.2 207.5 693.7 205.2C695.2 202.9 695.5 199.7 697.4 197.8C699.2 196.0 702.6 193.8 704.8 194.1C707.0 194.4 708.8 199.3 710.4 199.6C712.0 199.9 712.6 197.4 714.1 195.9C715.6 194.4 717.1 191.3 719.6 190.4C722.1 189.5 725.5 190.1 728.9 190.4C732.3 190.7 737.5 192.8 740.0 192.2C742.5 191.6 741.9 188.2 743.7 186.7C745.6 185.2 748.0 185.2 751.1 183.0C754.2 180.8 759.1 176.2 762.2 173.7C765.4 171.2 767.7 169.8 770.0 168.0C772.3 166.2 774.2 164.7 776.0 163.0C777.8 161.3 779.3 159.8 781.0 158.0C782.7 156.2 784.0 153.7 786.0 152.0C788.0 150.3 790.5 149.2 793.0 148.0C795.5 146.8 799.9 146.5 800.9 144.6C801.9 142.7 799.9 139.6 798.9 136.5C797.9 133.4 795.1 129.7 794.8 126.3C794.5 122.9 795.5 119.1 796.9 116.1C798.3 113.0 800.6 110.4 803.0 108.0C805.4 105.6 809.1 104.6 811.1 101.9C813.1 99.2 813.6 93.8 815.2 91.7Z" fill="#D8FBC0"/>
<path d="M703.3 258.0C704.5 256.8 707.2 255.2 710.0 254.5C712.8 253.8 716.7 253.9 720.0 254.0C723.3 254.1 727.6 254.2 730.0 255.0C732.4 255.8 733.9 257.4 734.4 259.0C734.9 260.6 734.6 263.1 733.0 264.5C731.4 265.9 728.2 266.9 725.0 267.5C721.8 268.1 717.2 268.6 714.0 268.3C710.8 268.1 707.8 267.1 706.0 266.0C704.2 264.9 703.5 263.3 703.0 262.0C702.5 260.7 702.1 259.2 703.3 258.0Z" fill="#D8FBC0"/>
<path d="M697.0 270.0C698.1 268.2 701.0 268.3 703.0 268.5C705.0 268.7 707.8 269.6 709.0 271.0C710.2 272.4 710.3 275.0 710.0 277.0C709.7 279.0 708.7 281.8 707.0 283.0C705.3 284.2 701.8 284.7 700.0 284.0C698.2 283.3 697.0 281.3 696.5 279.0C696.0 276.7 695.9 271.8 697.0 270.0Z" fill="#D8FBC0"/>
<path d="M751.5 250.0C752.2 248.3 754.2 247.1 756.0 246.7C757.8 246.3 760.6 246.6 762.0 247.5C763.4 248.4 764.2 250.3 764.4 252.0C764.6 253.7 764.2 256.3 763.0 257.5C761.8 258.7 758.8 259.5 757.0 259.4C755.2 259.3 752.9 258.6 752.0 257.0C751.1 255.4 750.8 251.7 751.5 250.0Z" fill="#D8FBC0"/>
<path d="M792.0 243.0C793.1 241.7 795.8 240.7 798.0 240.4C800.2 240.2 803.5 240.6 805.0 241.5C806.5 242.4 807.2 244.5 806.7 246.0C806.2 247.5 804.0 249.6 802.0 250.5C800.0 251.4 796.8 251.9 795.0 251.5C793.2 251.1 792.0 249.4 791.5 248.0C791.0 246.6 790.9 244.3 792.0 243.0Z" fill="#D8FBC0"/>
<path d="M824.0 201.0C824.7 199.7 827.7 198.7 829.0 199.0C830.3 199.3 831.8 201.5 832.0 203.0C832.2 204.5 831.2 207.3 830.0 208.0C828.8 208.7 826.0 208.2 825.0 207.0C824.0 205.8 823.3 202.3 824.0 201.0Z" fill="#D8FBC0"/>
<path d="M830.7 153.1C832.3 151.9 836.9 151.8 840.0 151.3C843.1 150.8 846.5 150.2 849.3 150.4C852.0 150.5 855.1 151.0 856.7 152.2C858.2 153.5 858.8 156.1 858.5 157.8C858.2 159.5 857.0 161.5 854.8 162.4C852.7 163.3 848.6 163.3 845.6 163.3C842.5 163.3 838.8 163.2 836.3 162.4C833.8 161.6 831.7 160.2 830.7 158.7C829.8 157.2 829.2 154.4 830.7 153.1Z" fill="#D8FBC0"/>
<path d="M848.3 139.3C849.1 137.7 852.5 136.9 853.9 137.4C855.3 137.9 856.7 140.3 856.7 142.0C856.7 143.7 855.1 146.8 853.9 147.6C852.7 148.4 850.2 148.1 849.3 146.7C848.3 145.3 847.6 140.8 848.3 139.3Z" fill="#D8FBC0"/>
<path d="M658.7 297.2C661.0 296.4 664.4 296.1 667.6 295.7C670.8 295.4 675.5 294.3 678.0 295.0C680.4 295.7 681.2 298.6 682.4 300.2C683.6 301.8 683.6 303.6 685.4 304.6C687.1 305.6 691.3 304.9 692.8 306.1C694.3 307.3 694.5 309.8 694.3 312.0C694.0 314.3 692.8 318.0 691.3 319.4C689.8 320.9 687.1 321.4 685.4 320.9C683.6 320.4 682.4 318.0 680.9 316.5C679.4 315.0 678.2 312.5 676.5 312.0C674.8 311.5 672.5 313.8 670.6 313.5C668.6 313.3 666.6 311.3 664.6 310.6C662.7 309.8 660.7 309.8 658.7 309.1C656.7 308.3 653.6 307.5 652.8 306.1C651.9 304.8 652.5 302.4 653.5 300.9C654.5 299.4 656.4 298.1 658.7 297.2Z" fill="#D8FBC0"/>
<path d="M643.9 319.4C645.6 317.7 648.8 316.7 651.3 316.5C653.8 316.2 656.5 318.2 658.7 318.0C660.9 317.7 662.4 315.0 664.6 315.0C666.9 315.0 670.6 316.5 672.0 318.0C673.5 319.4 674.0 321.9 673.5 323.9C673.0 325.9 670.6 328.1 669.1 329.8C667.6 331.5 665.1 332.5 664.6 334.3C664.1 336.0 666.1 338.2 666.1 340.2C666.1 342.2 665.9 344.6 664.6 346.1C663.4 347.6 659.9 347.6 658.7 349.1C657.5 350.6 658.5 353.5 657.2 355.0C656.0 356.5 653.5 357.6 651.3 358.0C649.1 358.3 645.6 358.2 643.9 357.2C642.2 356.2 641.2 353.9 640.9 352.0C640.7 350.2 642.9 347.8 642.4 346.1C641.9 344.4 638.5 343.6 638.0 341.7C637.5 339.7 639.0 336.7 639.4 334.3C639.9 331.8 640.2 329.3 640.9 326.9C641.7 324.4 642.2 321.2 643.9 319.4Z" fill="#D8FBC0"/>
<path d="M669.1 276.5C669.8 275.6 672.0 275.1 673.5 275.0C675.0 274.9 677.1 275.0 678.0 275.7C678.8 276.5 679.4 278.5 678.7 279.4C678.0 280.4 675.1 281.5 673.5 281.7C671.9 281.8 669.8 281.0 669.1 280.2C668.3 279.3 668.3 277.3 669.1 276.5Z" fill="#D8FBC0"/>
<path d="M691.3 289.1C691.7 288.4 693.5 288.0 694.3 288.3C695.0 288.7 696.0 290.1 696.0 291.0C696.0 291.9 695.0 293.3 694.3 293.5C693.5 293.8 692.1 293.2 691.6 292.5C691.1 291.7 690.9 289.8 691.3 289.1Z" fill="#D8FBC0"/>
<path d="M708.3 286.1C708.8 285.4 710.0 284.8 710.6 285.4C711.1 286.0 711.7 288.1 711.7 289.8C711.7 291.5 711.1 294.7 710.6 295.4C710.0 296.2 708.8 295.2 708.3 294.3C707.9 293.3 707.9 291.2 707.9 289.8C707.9 288.5 707.9 286.9 708.3 286.1Z" fill="#98FB98"/>
<path d="M587.2 337.8C588.7 337.4 591.5 337.0 593.9 336.7C596.3 336.4 599.3 335.9 601.7 336.1C604.1 336.3 606.4 337.0 608.3 337.8C610.1 338.6 611.7 339.6 612.8 341.1C613.9 342.6 614.3 344.9 615.0 346.7C615.7 348.5 616.8 350.2 617.2 352.2C617.6 354.2 617.4 356.7 617.2 358.9C617.0 361.1 616.5 363.4 616.1 365.6C615.7 367.8 615.5 370.2 615.0 372.2C614.5 374.2 613.7 376.2 612.8 377.8C611.9 379.4 610.9 380.8 609.4 381.7C607.9 382.6 605.6 383.2 603.9 383.3C602.2 383.4 600.2 383.1 599.4 382.2C598.6 381.3 598.5 379.3 598.9 377.8C599.3 376.3 601.4 374.7 601.7 373.3C602.0 371.9 601.5 369.4 600.6 369.4C599.7 369.4 597.8 372.8 596.1 373.3C594.4 373.8 592.3 372.9 590.6 372.2C588.9 371.5 587.4 370.4 586.1 368.9C584.8 367.4 583.8 365.1 582.8 363.3C581.8 361.5 580.6 359.7 580.0 357.8C579.4 355.9 578.9 353.6 578.9 352.2C578.9 350.8 579.5 350.9 580.0 349.4C580.5 347.9 581.4 345.0 582.2 343.3C583.0 341.6 584.2 340.3 585.0 339.4C585.8 338.5 585.7 338.2 587.2 337.8Z" fill="#D8FBC0"/>
<path d="M623.3 361.1C624.1 360.3 626.2 359.3 627.2 359.4C628.2 359.6 629.2 361.0 629.4 362.2C629.7 363.4 629.4 365.4 628.9 366.7C628.3 368.0 627.0 369.7 626.1 370.0C625.2 370.3 623.9 369.3 623.3 368.3C622.7 367.4 622.6 365.6 622.6 364.4C622.6 363.2 622.6 361.9 623.3 361.1Z" fill="#D8FBC0"/>
<path d="M631.7 360.0C632.1 359.4 633.4 358.7 633.9 359.1C634.4 359.5 634.8 361.1 634.8 362.2C634.7 363.4 634.2 365.6 633.7 366.1C633.1 366.7 632.1 366.1 631.7 365.6C631.2 365.0 631.1 363.7 631.1 362.8C631.1 361.9 631.2 360.6 631.7 360.0Z" fill="#D8FBC0"/>
<path d="M819.6 97.6C820.9 96.4 823.3 94.8 825.2 94.8C827.0 94.8 829.7 96.0 830.7 97.6C831.8 99.1 832.0 101.9 831.7 104.1C831.4 106.2 829.8 108.7 828.9 110.6C828.0 112.4 827.3 114.6 826.1 115.2C824.9 115.8 822.7 115.5 821.5 114.3C820.2 113.0 819.3 109.8 818.7 107.8C818.1 105.8 817.6 103.9 817.8 102.2C817.9 100.5 818.4 98.8 819.6 97.6Z" fill="#98FB98"/>
<path d="M822.4 105.9C822.9 104.8 825.0 103.8 826.1 104.1C827.3 104.4 829.1 106.5 829.3 107.8C829.4 109.1 828.0 111.3 827.0 111.9C826.0 112.4 824.1 112.1 823.3 111.1C822.6 110.1 821.9 107.1 822.4 105.9Z" fill="#66FFFF"/>
<path d="M828.5 112.4C829.3 111.2 831.8 109.2 833.5 109.6C835.3 110.1 837.8 113.2 839.1 115.2C840.3 117.2 841.4 120.1 840.9 121.7C840.5 123.2 837.8 124.4 836.3 124.4C834.8 124.4 832.9 122.9 831.7 121.7C830.4 120.4 829.4 118.6 828.9 117.0C828.4 115.5 827.7 113.6 828.5 112.4Z" fill="#98FB98"/>
<path d="M832.6 119.3C833.1 118.5 835.3 117.7 836.3 118.0C837.3 118.3 838.7 120.1 838.7 121.1C838.7 122.1 837.2 123.8 836.3 124.1C835.4 124.3 834.0 123.4 833.3 122.6C832.7 121.8 832.1 120.0 832.6 119.3Z" fill="#66FFFF"/>
<path d="M839.1 140.2C840.1 139.0 843.5 139.0 845.6 139.3C847.6 139.6 850.0 140.5 851.1 142.0C852.2 143.6 852.5 146.8 852.0 148.5C851.6 150.3 849.9 152.1 848.3 152.6C846.8 153.1 844.2 152.3 842.8 151.3C841.3 150.3 840.2 148.5 839.6 146.7C839.0 144.8 838.1 141.4 839.1 140.2Z" fill="#98FB98"/>
<path d="M841.9 146.3C842.3 145.4 844.8 144.9 845.9 145.2C847.1 145.5 848.7 147.0 848.9 148.1C849.1 149.3 848.0 151.4 847.0 151.9C846.0 152.3 843.8 151.7 843.0 150.7C842.1 149.8 841.4 147.2 841.9 146.3Z" fill="#66FFFF"/>
<path d="M811.9 151.3C812.5 150.2 814.6 149.3 815.9 149.4C817.3 149.6 819.4 151.0 820.0 152.2C820.6 153.5 820.1 155.8 819.3 156.9C818.4 157.9 816.2 158.9 815.0 158.7C813.8 158.5 812.4 157.2 811.9 155.9C811.3 154.7 811.2 152.4 811.9 151.3Z" fill="#98FB98"/>
<path d="M815.9 167.4C816.5 166.7 818.6 166.1 819.6 166.3C820.6 166.5 821.8 167.7 821.9 168.5C821.9 169.3 820.9 170.8 820.0 171.1C819.1 171.4 817.0 171.0 816.3 170.4C815.6 169.8 815.4 168.1 815.9 167.4Z" fill="#98FB98"/>
<path d="M803.0 180.0C803.7 178.9 807.7 178.8 809.4 179.1C811.1 179.4 812.8 180.8 813.1 181.9C813.5 182.9 812.7 184.9 811.3 185.6C809.9 186.2 806.2 186.9 804.8 185.9C803.4 185.0 802.2 181.1 803.0 180.0Z" fill="#98FB98"/>
<path d="M797.4 154.1C797.9 153.5 799.5 152.8 800.2 153.1C800.9 153.5 801.6 155.2 801.5 155.9C801.3 156.7 799.9 157.7 799.3 157.8C798.6 157.8 797.7 156.9 797.4 156.3C797.1 155.7 796.9 154.6 797.4 154.1Z" fill="#98FB98"/>
<path d="M755.7 190.4C756.1 189.4 758.3 188.9 759.4 189.1C760.6 189.2 762.3 190.3 762.6 191.3C762.9 192.3 762.2 194.4 761.3 195.0C760.4 195.6 758.0 195.4 757.0 194.6C756.1 193.9 755.3 191.3 755.7 190.4Z" fill="#98FB98"/>
<path d="M778.0 187.6C778.8 186.9 781.8 186.1 783.5 186.3C785.2 186.5 787.5 187.5 788.1 188.5C788.8 189.6 788.3 191.8 787.2 192.6C786.1 193.4 783.1 193.5 781.7 193.1C780.2 192.8 779.1 191.7 778.5 190.7C777.9 189.8 777.1 188.3 778.0 187.6Z" fill="#98FB98"/>
<path d="M790.0 188.5C791.3 187.5 795.2 186.7 797.4 187.0C799.6 187.3 802.0 188.9 803.0 190.4C804.0 191.9 804.1 194.6 803.3 195.9C802.6 197.2 800.1 198.0 798.3 198.1C796.6 198.3 794.2 197.7 792.8 196.9C791.3 196.0 790.1 194.5 789.6 193.1C789.2 191.8 788.7 189.5 790.0 188.5Z" fill="#98FB98"/>
<path d="M796.5 192.2C796.9 191.5 798.4 191.2 799.3 191.5C800.1 191.7 801.4 192.9 801.5 193.7C801.5 194.5 800.4 196.0 799.6 196.3C798.9 196.6 797.4 196.2 796.9 195.6C796.3 194.9 796.1 192.9 796.5 192.2Z" fill="#66FFFF"/>
<path d="M803.0 178.9C804.0 178.2 806.9 177.6 808.5 177.8C810.1 178.0 812.1 179.2 812.6 180.2C813.1 181.2 812.4 183.2 811.3 183.9C810.2 184.6 807.2 184.8 805.7 184.4C804.3 184.1 803.1 183.0 802.6 182.0C802.1 181.1 802.0 179.6 803.0 178.9Z" fill="#98FB98"/>
<path d="M675.6 228.7C675.9 228.2 677.2 227.9 677.8 228.1C678.3 228.4 679.0 229.5 678.9 230.2C678.8 230.8 678.0 231.9 677.4 232.0C676.9 232.2 675.9 231.7 675.6 231.1C675.2 230.6 675.2 229.2 675.6 228.7Z" fill="#98FB98"/>
<path d="M650.3 343.9C650.6 343.4 651.4 343.0 651.9 343.1C652.4 343.2 653.1 343.9 653.2 344.4C653.3 345.0 652.8 346.2 652.3 346.4C651.9 346.7 650.9 346.5 650.6 346.1C650.2 345.7 650.1 344.4 650.3 343.9Z" fill="#98FB98"/>
</g>
<g stroke="#000" stroke-opacity="0.36" stroke-width="0.7">
<line x1="619.33" x2="619.33" y1="31.5" y2="414.5"/>
<line x1="683.17" x2="683.17" y1="31.5" y2="414.5"/>
<line x1="747.00" x2="747.00" y1="31.5" y2="414.5"/>
<line x1="810.83" x2="810.83" y1="31.5" y2="414.5"/>
<line x1="874.67" x2="874.67" y1="31.5" y2="414.5"/>
<line x1="555.5" x2="938.5" y1="349.67" y2="349.67"/>
<line x1="555.5" x2="938.5" y1="285.83" y2="285.83"/>
<line x1="555.5" x2="938.5" y1="222.00" y2="222.00"/>
<line x1="555.5" x2="938.5" y1="158.17" y2="158.17"/>
<line x1="555.5" x2="938.5" y1="94.33" y2="94.33"/>
</g><g transform="translate(0,0)" fill="none" stroke="#000" stroke-width="1.3" stroke-linejoin="round" stroke-linecap="round">
<path d="M686.3 71.0L687.5 70.0L689.0 69.8L690.3 68.8L691.9 68.1L692.8 66.6L694.0 65.9L695.3 65.5L696.5 64.9L698.0 65.0L699.4 65.4L701.2 65.9L703.0 65.8L704.6 65.9L706.1 65.6L707.8 64.8L709.7 64.3L711.1 62.9L712.5 62.1L713.5 60.8L714.8 59.9L716.2 58.5L717.8 57.4L718.7 56.5L719.3 55.4L721.1 55.2L722.7 54.2L724.7 54.4L726.3 53.6L728.1 53.2L730.0 53.1L731.6 51.9L733.4 51.7L735.1 50.9L737.0 51.0L738.8 50.5L740.6 50.0L742.5 49.7L744.4 49.5L745.7 48.2L747.4 47.3L749.3 47.1L751.0 46.2L752.7 45.3L754.5 44.9L756.3 44.3L757.9 43.2L760.0 43.3L761.5 42.1L763.0 41.4L764.0 40.2L765.2 39.1L766.5 37.8L768.4 37.6L769.6 36.2L768.9 34.8L768.9 33.2L767.0 33.5L765.2 32.8L763.7 33.5L762.2 34.0L763.0 34.6L763.7 35.4M696.5 59.9L698.2 60.4L700.0 59.9L701.5 60.2L703.1 60.3L705.0 59.9L707.0 59.5L708.9 59.1L710.5 59.4L712.0 59.1L713.6 59.0L714.8 57.9L716.3 57.6L717.8 57.4M816.3 31.5L816.8 33.1L817.0 34.7L816.7 36.6L816.3 38.4L815.5 39.6L814.9 40.9L814.1 42.1L814.1 44.0L813.3 45.8L812.4 47.6L811.9 49.5L810.3 50.4L809.6 52.2L808.1 53.2L806.7 54.6L805.4 56.0L803.7 56.9L802.7 58.1L801.5 59.2L800.4 60.3L799.3 61.4L798.2 62.5L796.8 63.4L795.9 64.6L794.8 65.8L793.7 67.1L792.7 68.5L791.9 70.0L790.4 71.0L789.2 72.0L788.7 73.3L788.1 74.7L786.5 75.8L785.6 77.6L784.4 79.1L783.2 80.1L782.4 81.6L781.5 82.8L780.0 83.6L778.5 84.5L777.1 85.4L776.1 86.9L774.8 88.0L773.2 88.5L771.9 89.4L770.7 90.5L769.6 91.7L768.4 93.3L766.3 93.8L765.2 95.4L764.1 96.6L762.6 97.3L761.6 98.6L760.7 99.9L759.2 101.1L757.8 102.5L757.0 104.3L755.9 105.7L754.1 106.4L753.3 108.0L752.4 109.3L751.1 110.3L750.4 111.7L748.6 112.3L747.4 113.7L745.9 114.7L744.3 115.2L742.9 116.2L741.4 116.9L740.0 117.7L738.7 118.7L737.2 119.4L735.4 119.2L734.1 120.2L732.7 120.9L731.1 121.1L729.6 121.4L728.1 121.7L726.7 122.5L725.2 122.6L723.7 123.0L722.2 123.1L720.7 122.6L719.3 122.1L717.8 121.7L716.0 121.8L714.4 120.8L712.6 120.9L711.5 119.8L710.4 118.7L709.0 117.4L708.3 115.7L707.3 116.9L706.1 118.0L704.6 119.1L703.1 120.2L702.2 121.8L700.5 122.6L699.4 123.9L697.4 124.4L695.7 125.4L694.2 125.4L692.8 124.7L691.3 124.6L690.6 126.1L689.8 127.6L688.3 128.5L686.6 129.3L685.4 130.6L684.1 131.7L683.2 133.3L681.7 134.3L681.0 135.8L679.5 136.6L678.7 138.0L679.4 139.4L679.7 140.9L679.4 142.4L679.4 144.3L678.7 146.1L677.3 146.8L675.9 147.7L675.1 149.3L673.5 149.8L672.1 150.4L670.8 151.2L669.7 152.1L668.3 152.8L666.4 153.5L664.7 154.5L663.1 155.7L661.8 156.6L660.1 156.8L658.8 157.8L657.2 158.0L655.9 159.0L654.2 159.4L652.8 160.2L651.9 161.8L650.6 163.1L650.9 164.6L651.3 166.1L650.4 167.1L649.1 167.6L650.5 168.0L651.3 169.1L652.8 170.0L654.2 171.1L655.7 172.0L657.0 173.5L658.7 174.4L660.2 175.7L661.2 177.0L662.5 178.0L662.9 179.6L663.9 180.9L664.6 182.2L665.1 183.6L665.7 185.1L666.9 186.1L668.2 187.2L668.6 188.8L669.3 190.2L670.6 191.3L671.2 193.2L672.5 194.8L673.5 196.5L674.5 197.8L674.6 199.4L675.0 200.9L674.8 202.3L675.5 203.6L675.7 205.0L675.6 206.7L676.4 208.2L676.8 209.8L676.3 211.4L676.5 213.0L675.7 214.3L674.3 215.0L673.1 216.1L672.7 217.8L671.3 218.7L669.7 219.3L669.0 220.9L667.6 221.7L666.7 223.0L665.4 223.9L663.6 223.2L662.4 221.7L660.5 221.9L658.7 222.4L657.0 223.6L655.0 223.9L653.5 224.2L652.1 224.3L650.6 224.6L649.3 225.2L647.9 225.8L646.9 226.9L645.0 227.1L643.1 226.9L641.8 227.6L640.5 228.2L639.4 229.1L637.3 229.3L635.7 230.6L634.3 229.8L634.8 228.3L635.0 226.8L635.8 225.4L636.4 223.6L637.0 221.7L637.4 220.2L637.5 218.7L637.9 216.9L638.0 215.0L639.0 214.1L639.3 212.8L640.4 211.1L640.6 209.1L640.0 207.5L639.0 206.1L638.1 204.7L637.6 203.1L636.3 201.9L635.5 200.4L636.0 198.6L636.9 198.0L637.6 197.2L639.4 197.2L641.1 196.8L642.4 195.7L641.6 194.5L640.5 193.5L640.2 192.0L640.9 190.2L640.9 188.3L639.7 186.9L638.0 186.1L636.4 186.3L635.0 185.4L633.5 185.4L632.2 184.5L630.5 184.6L629.1 183.9L627.5 184.5L626.1 185.3L624.6 186.1L623.1 185.1L621.4 184.4L620.2 183.1L618.5 182.1L616.5 181.7L617.7 180.4L618.0 178.7L619.3 177.4L620.2 175.7L621.6 175.0L623.2 175.4L624.6 175.0L622.8 174.2L620.9 173.5L622.0 172.5L622.2 171.0L623.1 169.8L623.9 168.0L623.9 166.1L624.9 164.7L625.4 163.1L624.0 163.7L622.3 163.3L620.9 163.9L619.0 163.4L617.2 162.4L615.3 162.2L613.5 161.7L612.1 161.1L610.9 160.2L609.8 159.1L607.9 158.8L606.1 159.4L604.4 159.8L602.6 159.5L600.9 159.4L599.4 159.6L598.0 160.4L596.4 160.2L595.0 160.9L593.5 161.4L592.2 162.3L590.6 162.7L589.1 163.1L587.4 163.8L586.1 165.0L584.8 166.3L583.1 166.9L581.6 168.0L580.2 169.4L578.7 170.6L577.3 171.5L575.8 172.1L574.3 172.8L572.9 173.7L571.2 173.4L569.8 174.0L569.0 173.1L569.1 172.0L570.5 171.3L572.0 170.6L573.1 169.7L574.7 169.4L575.7 168.3L577.1 167.1L578.7 166.1L576.9 165.8L575.0 166.1L573.6 165.1L572.0 164.6L572.8 163.2L573.5 161.7L574.8 160.8L576.2 160.0L577.2 158.7L578.2 157.4L579.9 157.0L580.9 155.7L581.8 154.5L582.8 153.5L583.1 152.0L582.4 150.6L582.4 149.1L580.7 148.1L579.0 147.2L577.2 146.4L575.2 146.3L573.3 146.2L571.3 146.1L569.5 146.9L567.6 147.6L566.1 148.8L564.8 150.3L563.1 151.3L562.2 152.9L560.7 153.8L559.4 155.0L558.0 155.3L556.6 155.6L555.5 156.5M555.5 188.3L556.7 187.4L558.1 186.8L559.4 186.1L560.9 186.1L562.4 185.9L563.9 186.0L565.4 185.8L566.9 186.4L568.3 187.0L569.8 187.6L571.4 188.0L573.0 188.7L574.3 189.8L576.0 189.5L577.7 190.1L579.4 189.8L581.2 189.6L582.9 190.2L584.6 190.6L586.1 190.9L587.6 191.4L589.1 191.7L588.7 193.2L587.7 194.4L587.6 196.0L585.9 196.2L584.6 197.3L583.1 198.0L581.7 198.6L580.1 198.1L578.7 198.7L577.1 198.8L575.8 199.7L574.3 200.2L572.7 200.2L571.2 200.5L569.8 201.3L568.2 201.2L566.9 202.3L565.4 202.4L564.1 203.7L562.2 204.1L560.9 205.4L559.8 206.3L558.6 207.1L557.2 207.6L556.7 209.0L555.5 209.8M555.5 229.1L556.8 230.3L557.2 232.0L557.7 233.6L558.2 235.2L559.4 236.5L560.2 237.9L560.5 239.7L561.7 240.9L562.5 242.4L563.0 244.0L563.9 245.4L564.2 247.1L565.7 248.2L566.1 249.8L567.0 251.5L566.9 253.5L568.6 254.3L569.8 255.7L571.6 256.3L572.8 257.6L574.3 258.7L575.8 259.4L577.0 260.4L578.0 261.7L578.6 263.1L578.7 264.6L577.2 265.4L575.7 266.1L574.4 265.2L572.6 265.6L571.3 264.6L569.9 263.4L568.3 262.4L567.1 261.3L565.4 260.9L564.0 260.3L562.4 260.2L560.5 260.6L558.7 260.2L557.3 261.3L555.5 261.7M566.0 263.5L567.6 264.4L569.5 264.4L571.0 265.5L572.8 265.8L574.3 266.8L576.0 267.3L574.7 267.6L573.3 267.0L572.0 267.6L570.4 266.7L568.8 266.0L567.0 265.8L566.4 264.7L566.0 263.5ZM555.5 266.1L557.5 266.0L559.4 266.1L560.9 266.5L562.6 266.6L563.9 267.6L565.3 268.3L566.8 268.5L568.3 268.9L569.8 269.1L571.8 269.3L573.7 269.8L575.7 269.8L577.0 271.2L578.7 272.0L577.8 273.8L577.2 275.7L575.8 276.4L574.1 276.3L572.8 277.2L571.4 277.9L569.9 278.6L568.3 278.7L566.9 279.5L565.4 279.7L563.9 280.2L562.3 280.3L561.0 281.4L559.4 281.7L558.0 282.0L556.9 282.8L555.5 283.0M574.3 275.5L572.8 276.0L571.3 275.6L569.8 275.9L568.4 276.7L566.7 276.2L565.5 277.4L563.9 277.4L562.4 278.1L560.8 278.5L559.4 279.4L557.4 279.8L555.8 281.0L556.8 282.1L558.0 283.0L559.4 283.5L560.9 283.6L562.4 283.9L564.4 284.0L566.3 283.1L568.3 283.1L569.8 283.5L571.3 283.6L572.8 283.7L574.3 283.9L575.8 284.6L577.5 284.9L578.7 286.1L580.2 285.7L581.6 285.0L583.1 284.6L583.8 285.4L584.6 286.1L583.2 286.9L581.7 287.6L579.9 288.3L578.7 289.8L579.3 291.7L580.2 293.5L578.6 294.5L577.2 295.7L577.9 297.1L578.0 298.7L576.9 299.9L575.7 300.9L575.6 302.9L576.5 304.6L575.1 305.5L573.5 306.1L574.2 307.1L574.3 308.3L572.8 308.9L571.4 309.7L569.8 309.8L569.1 310.8L569.1 312.0L567.6 312.1L566.2 312.8L564.6 312.8L563.4 313.8L563.2 315.3L562.4 316.5L561.8 318.0L560.9 319.4L559.6 320.1L559.2 321.7L558.0 322.4L557.5 324.0L556.5 325.4L556.1 326.5L555.5 327.6M574.4 345.6L575.4 346.6L576.4 347.5L577.8 347.8L578.7 348.8L580.0 349.4L579.0 350.6L578.9 352.2L579.0 354.0L578.3 355.6L577.8 357.0L577.6 358.6L577.2 360.0L576.9 361.9L575.8 363.6L575.6 365.6L575.2 367.1L574.0 368.3L573.9 370.0L573.3 371.5L572.4 372.9L571.7 374.4L570.5 375.7L569.6 377.2L568.9 378.9L568.6 380.4L567.2 381.4L566.7 382.8L566.8 384.8L566.1 386.7L565.7 388.1L565.0 389.4L563.8 388.9L563.3 387.8L563.2 386.1L562.8 384.4L561.5 383.5L560.6 382.2L559.0 381.0L557.8 379.4L557.0 377.7L556.1 376.1L555.9 374.2L555.9 372.2L556.0 370.7L556.1 369.3L556.1 367.8L557.0 366.4L558.0 365.0L558.3 363.3L559.5 362.1L559.9 360.4L560.6 358.9L561.6 357.5L562.5 356.0L563.3 354.4L564.1 353.0L565.4 352.1L566.1 350.6L567.2 349.1L568.9 348.3L570.5 348.2L571.7 347.2L573.0 346.4ZM837.8 31.5L837.8 33.3L837.5 35.1L837.5 36.9L837.0 38.4L836.5 39.9L835.8 41.3L835.6 42.9L834.4 44.6L834.1 46.6L834.9 48.4L835.7 50.2L837.0 51.7L837.3 53.6L837.8 55.4L837.3 56.9L836.4 58.3L836.3 59.9L835.3 61.5L835.2 63.3L834.8 65.1L834.9 66.6L835.8 67.9L835.6 69.5L834.8 70.9L834.7 72.4L834.3 73.9L834.1 75.4L834.7 77.1L834.5 78.9L834.8 80.6L835.8 81.8L837.0 82.9L837.4 81.2L838.4 79.9L839.3 78.4L840.3 77.3L841.0 76.1L841.5 74.7L843.1 73.8L844.4 72.5L846.2 73.0L848.1 73.2L849.4 74.4L851.1 74.7L851.5 76.1L852.9 76.9L853.2 78.4L853.8 79.7L854.1 81.0L854.0 79.5L855.4 78.4L855.4 76.9L855.4 75.1L854.7 73.5L854.8 71.7L853.2 71.3L851.9 70.3L850.7 69.3L850.0 67.8L848.9 66.6L847.9 65.4L846.5 64.5L845.9 62.9L845.1 61.5L843.8 60.5L843.0 59.1L842.6 57.4L843.3 55.7L842.6 54.0L843.7 52.4L844.4 50.7L844.8 48.8L845.9 47.5L846.4 45.9L846.6 44.2L847.8 42.9L849.2 41.9L850.8 41.2L852.2 40.2L854.1 40.6L855.9 39.9L857.7 39.5L859.6 39.9L860.9 40.9L862.5 41.2L864.0 41.9L865.6 42.1L867.1 43.3L868.7 44.4L870.0 45.8L870.7 47.3L869.6 45.9L868.4 44.6L867.8 42.9L866.8 41.5L866.0 39.9L865.5 38.1L864.1 36.9L863.8 34.9L862.6 33.3L861.9 31.5M834.4 87.4L833.3 88.4L832.2 89.2L830.7 89.6L831.0 91.4L832.0 93.0L832.2 94.8L832.3 96.6L833.1 98.2L833.0 100.0L831.7 101.5L831.3 103.4L830.7 105.2L830.2 106.8L829.7 108.3L828.5 109.6L827.9 111.3L827.6 113.0L827.8 114.8L826.4 116.0L824.8 117.0L823.0 117.2L821.4 116.0L819.6 116.3L817.8 115.5L815.9 115.6L815.2 116.7L814.4 117.8L815.8 118.6L816.7 120.0L815.3 120.5L814.0 121.0L813.0 122.2L811.9 123.1L810.6 123.8L809.3 124.4L808.4 125.8L808.0 127.3L807.8 128.9L808.1 130.4L809.2 131.4L810.0 132.6L810.1 134.4L809.0 136.0L809.3 137.8L810.2 139.1L811.5 140.0L813.1 139.9L814.4 138.8L815.9 138.5L817.0 137.6L818.6 137.5L819.6 136.3L821.6 136.0L823.3 134.8L823.7 133.7L824.8 133.3L823.3 133.0L822.1 132.2L821.1 131.1L819.3 130.2L817.4 129.6L815.8 129.5L814.4 128.9L813.7 127.4L815.0 126.3L816.7 125.9L818.2 126.4L819.5 127.4L821.1 127.4L822.6 127.7L824.1 128.1L825.0 126.8L826.3 125.9L827.8 125.2L829.5 124.7L831.2 124.5L833.0 124.4L834.5 124.4L836.0 124.5L837.4 125.2L839.0 125.8L840.5 126.4L841.9 127.4L843.5 128.1L845.1 129.0L846.3 130.4L848.0 131.4L849.6 132.6L851.5 133.3L852.1 131.4L853.0 129.6L853.6 127.9L854.9 126.6L855.9 125.2L856.8 123.8L858.1 122.9L859.6 122.2L861.0 121.5L862.7 121.6L864.1 120.7L865.5 120.0L867.0 120.2L868.5 120.0L869.9 119.2L871.5 119.4L873.0 119.3L874.5 119.0L875.7 118.1L876.7 117.0L878.5 116.6L880.4 116.3L882.2 115.3L884.1 114.8L882.2 115.1L880.4 114.8L879.3 114.0L878.1 113.3L877.7 111.9L877.4 110.4L877.9 108.8L878.9 107.4L878.0 105.7L878.1 103.7L876.9 104.7L875.7 105.8L875.2 107.4L873.3 107.3L871.5 108.1L870.0 108.1L868.5 108.2L867.0 108.1L865.4 108.0L864.2 106.7L862.6 106.7L860.8 106.3L859.0 106.2L857.4 105.2L856.4 104.0L854.9 103.6L853.6 102.7L852.2 102.2L850.9 101.1L849.4 100.2L848.5 98.6L847.0 97.8L845.9 96.5L844.5 95.5L843.5 94.1L841.9 93.3L840.2 92.3L839.2 90.4L837.4 89.6L836.0 88.4ZM878.9 110.4L879.8 109.0L881.3 108.3L882.6 107.4L883.6 106.0L885.0 104.9L886.3 103.7L887.6 102.7L889.4 102.6L890.7 101.5L892.2 101.9L893.7 102.2L892.1 102.7L890.7 103.7L889.0 104.0L887.8 105.2L886.8 106.2L885.8 107.2L884.8 108.1L884.1 109.4L882.6 109.9L881.9 111.1L880.9 111.9L879.6 111.9ZM897.4 100.7L898.4 99.2L900.1 98.6L901.0 97.0L902.6 96.3L904.1 95.6L905.8 95.3L907.0 94.1L908.1 92.5L909.9 91.4L910.7 89.6L911.3 90.5L912.2 91.1L913.6 90.7L914.4 89.2L915.9 88.9L917.5 88.6L918.9 87.9L920.4 87.4L921.8 87.9L923.3 88.1L922.3 89.3L921.1 90.4L919.6 90.1L918.1 90.7L916.7 91.1L915.1 92.0L913.7 93.3L912.4 93.9L911.2 94.8L910.0 95.6L908.3 96.3L907.0 97.4L905.6 98.5L904.1 99.4L902.8 100.8L901.1 101.5L899.6 101.6L898.1 101.9ZM930.0 86.7L931.3 85.7L932.5 84.8L933.7 83.7L935.3 83.3L936.8 82.6L938.0 81.5L938.0 83.0L936.5 83.6L935.7 85.0L934.4 85.9L933.0 86.1L932.0 87.2L930.7 87.7ZM814.1 142.4L813.1 143.6L812.3 144.8L811.5 146.1L811.1 147.6L810.4 148.8L810.0 150.3L808.9 151.3L809.0 153.0L808.7 154.8L808.9 156.5L807.8 157.6L806.7 158.7L808.5 159.2L810.4 159.4L810.1 160.9L810.8 162.4L810.8 163.9L810.5 165.7L810.1 167.4L809.6 169.1L808.6 170.5L808.0 172.0L807.4 173.5L805.9 174.5L805.3 176.3L803.7 177.2L802.7 178.4L801.4 179.5L800.7 180.9L799.2 181.9L798.6 183.6L797.4 184.9L796.1 186.1L794.4 187.2L793.3 188.9L792.3 190.7L790.6 191.7L789.2 192.2L787.8 192.9L786.7 193.9L785.1 194.5L783.5 195.0L782.2 196.1L780.8 196.9L779.2 197.1L777.8 197.8L776.1 198.1L775.0 199.4L773.9 198.9L772.8 198.3L772.0 196.7L771.7 195.0L771.8 193.9L772.2 192.8L773.3 192.2L774.4 191.7L775.2 190.9L776.1 190.2L775.0 189.8L773.9 190.0L772.4 191.0L770.6 191.1L769.5 192.6L767.8 193.3L768.3 194.4L768.3 195.6L768.9 196.9L768.9 198.3L768.2 199.8L767.2 201.1L766.1 202.8L764.4 203.9L763.5 205.1L762.1 205.6L761.1 206.7L759.7 207.8L759.1 209.4L759.4 210.9L760.0 212.2L758.5 213.1L757.2 214.4L755.5 214.7L753.9 215.6L752.3 215.0L750.6 215.0L749.3 213.8L747.8 212.8L746.3 212.4L744.8 212.8L743.3 213.1L741.9 213.7L740.3 213.3L738.9 213.9L737.5 214.6L735.9 214.3L734.4 214.7L732.8 214.6L731.5 215.4L730.0 215.6L728.7 215.2L727.5 214.3L726.0 214.4L724.6 214.7L723.3 214.1L722.0 213.9L720.6 214.7L718.9 215.0L717.3 216.2L715.6 217.2L714.4 218.4L712.7 219.1L711.5 220.2L710.0 221.1L708.5 222.0L707.1 222.8L705.5 223.6L704.4 225.0L703.1 225.9L701.5 226.5L700.0 227.1L698.9 228.3L697.7 229.0L696.6 229.7L695.6 230.6L694.4 231.9L693.3 233.3L694.6 234.0L695.6 235.0L697.1 234.8L698.3 235.6L700.3 235.7L702.2 235.0L703.8 235.8L705.6 235.6L707.2 236.1L708.9 236.1L710.1 236.2L711.1 235.6L711.3 234.3L710.6 233.3L711.2 232.2L711.7 231.1L713.3 230.0L713.9 231.1L715.0 231.7L714.3 232.7L714.4 233.9L715.5 233.3L716.7 232.8L718.5 232.3L720.0 231.1L721.5 230.1L723.3 230.0L724.9 229.2L726.7 228.9L728.4 228.4L730.0 227.8L731.2 227.4L732.2 226.7L733.8 225.8L735.6 225.6L737.1 225.6L738.5 224.9L740.0 224.8L741.6 225.3L743.3 225.2L744.4 225.7L745.6 226.1L746.8 225.9L747.8 226.7L748.7 225.7L750.0 225.6L751.0 226.1L752.2 226.1L752.3 227.3L751.7 228.3L750.8 229.7L749.4 230.6L748.0 231.4L747.2 232.8L746.6 233.8L746.7 235.0L748.1 235.8L748.9 237.2L749.9 238.4L751.1 239.4L752.3 240.6L753.9 241.1L755.3 241.4L756.7 241.7L757.6 240.3L758.9 239.4L759.9 238.1L760.6 236.7L761.3 235.2L762.2 233.9L763.7 233.2L764.4 231.7L765.8 231.4L767.2 231.1L768.6 230.8L770.0 230.6L770.0 229.4L770.6 228.3L769.2 227.9L768.3 226.7L767.3 225.8L767.2 224.4L768.0 222.8L769.4 221.7L770.7 222.3L771.7 223.3L772.3 224.6L773.3 225.6L775.0 225.9L776.7 226.1L778.5 226.2L780.0 225.3L781.6 225.4L783.0 226.2L784.4 226.7L785.5 227.0L786.7 227.2L787.4 226.3L788.3 225.6L789.4 224.4L790.0 222.8L791.2 221.8L792.2 220.6L792.8 221.5L793.9 221.7L794.5 222.7L794.4 223.9L795.2 224.9L795.6 226.1L796.8 225.7L797.8 225.0L798.4 223.8L799.4 222.8L800.6 222.0L801.1 220.6L802.7 220.4L803.9 219.4L804.8 218.3L805.6 217.2L806.0 215.8L807.2 215.0L808.6 214.5L809.4 213.3L810.6 214.4L809.9 215.3L808.9 215.6L808.1 216.7L807.2 217.8L807.2 219.2L806.7 220.6L807.3 221.7L807.8 222.8L809.4 222.8L810.8 222.4L811.7 221.1L813.3 220.7L814.4 219.4L815.6 218.3L816.1 216.7L817.2 215.7L817.8 214.4L819.4 213.3L821.1 212.8L820.0 211.7L818.9 210.6L818.0 209.3L817.8 207.8L817.6 206.0L818.3 204.4L819.2 202.6L819.4 200.6L820.3 199.2L821.5 198.0L821.9 196.2L822.8 194.6L823.0 192.8L823.0 190.9L822.3 189.3L821.5 187.6L821.4 185.8L822.3 184.2L822.2 182.4L823.6 181.6L824.5 180.2L825.9 179.4L827.4 179.1L828.6 178.4L829.6 177.2L830.8 176.0L831.4 174.4L831.9 172.8L832.5 171.3L834.0 170.5L834.8 169.1L835.0 167.4L835.6 165.7L835.6 163.9L835.7 162.3L834.4 161.1L834.8 159.4L834.1 158.0L833.2 156.6L833.1 154.8L831.9 153.5L830.9 152.3L830.0 151.0L828.9 149.8L827.9 148.1L827.4 146.1L828.0 144.7L827.5 143.1L828.1 141.7L827.1 141.2L826.7 140.2L825.8 141.2L825.2 142.4L824.1 141.1L823.7 139.4L822.4 139.8L821.5 140.9L820.7 142.6L821.1 144.4L820.7 146.1L819.5 146.1L818.5 146.9L818.6 145.4L818.5 143.9L818.5 142.4L817.4 143.2L816.3 143.9L815.0 143.4ZM787.6 186.6L788.0 184.8L788.3 183.0L789.3 181.8L790.2 180.4L791.9 180.0L791.3 181.2L791.5 182.6L790.2 184.0L789.6 185.8L788.4 185.8ZM757.2 221.7L758.0 220.6L758.7 219.5L759.4 218.3L760.8 217.5L761.7 216.1L762.8 217.2L761.6 218.0L761.1 219.4L759.7 220.3L758.9 221.7ZM813.3 207.4L814.5 208.0L815.8 207.8L816.1 209.4L815.0 209.3L814.0 209.0ZM708.9 242.2L710.4 241.3L712.2 241.1L713.2 239.9L714.4 238.9L715.3 237.5L716.7 236.7L717.9 235.6L719.4 235.0L720.9 234.6L722.2 233.9L723.2 233.2L724.4 233.3L726.0 232.4L727.8 231.7L729.3 230.8L731.1 230.6L732.7 231.4L734.4 231.1L736.1 231.4L737.8 231.7L739.5 231.7L741.1 232.2L741.7 233.3L742.2 234.4L741.6 235.7L741.7 237.2L741.0 238.2L740.0 238.9L738.7 239.8L737.8 241.1L737.1 242.3L736.1 243.3L735.1 243.0L734.4 242.2L733.5 241.3L732.2 241.1L730.7 241.3L729.4 240.6L727.9 240.7L726.7 241.7L725.7 242.9L724.4 243.9L723.4 244.8L722.8 246.1L722.0 247.5L721.1 248.9L721.3 250.1L720.6 251.1L719.0 251.0L717.8 250.0L716.4 249.5L715.6 248.3L714.6 247.4L714.4 246.1L713.5 245.2L713.3 243.9L712.1 243.8L711.1 243.3L709.9 243.0ZM743.5 227.3L744.8 227.5L745.8 228.3L745.3 229.8L744.6 231.2L742.8 230.6L742.8 228.9ZM675.0 244.4L676.7 243.3L678.3 242.2L679.4 241.1L680.8 240.5L682.2 240.0L683.7 239.2L685.0 238.1L686.7 237.8L688.2 237.2L689.8 237.1L691.1 236.1L692.7 235.8L694.4 235.6L695.1 236.5L696.1 236.7L695.9 237.9L696.7 238.9L697.9 238.6L698.9 239.4L700.5 238.9L702.2 239.4L703.3 240.2L704.4 241.1L703.7 242.1L703.9 243.3L705.0 243.8L706.1 244.4L706.7 245.5L707.8 246.1L707.3 247.2L707.2 248.3L706.9 250.2L705.6 251.7L705.0 253.4L704.4 255.0L703.7 256.6L703.3 258.3L703.1 260.1L702.2 261.7L702.0 263.5L701.1 265.0L700.1 266.3L699.4 267.8L698.4 268.8L697.2 269.4L695.6 268.3L694.6 269.3L693.9 270.6L693.0 271.9L691.7 272.8L690.5 272.3L690.0 271.1L690.4 269.6L691.1 268.3L691.2 266.9L690.6 265.6L690.1 266.5L689.4 267.2L688.8 268.3L688.3 269.4L687.2 269.1L686.1 269.4L685.1 268.8L684.4 267.8L685.6 266.6L686.1 265.0L685.1 263.5L685.0 261.7L684.4 260.6L683.9 259.4L684.6 258.4L685.6 257.8L686.5 256.9L687.8 256.7L689.0 255.8L689.4 254.4L689.7 252.9L690.6 251.7L690.3 249.9L689.4 248.3L688.6 247.2L687.8 246.1L686.1 245.6L685.1 246.8L685.0 248.3L685.5 249.7L686.7 250.6L686.9 252.1L686.1 253.3L684.7 253.8L683.9 255.0L683.0 256.1L682.2 257.2L682.2 255.5L681.7 253.9L680.5 253.1L680.0 251.7L679.9 250.2L679.4 248.9L678.8 247.9L677.8 247.2L676.7 245.6L676.1 244.6ZM633.6 243.5L634.4 242.4L635.5 241.6L637.4 241.6L639.0 240.6L640.8 241.1L642.6 240.6L643.9 241.8L642.7 242.5L642.3 243.7L640.4 243.9L638.7 244.8L636.8 244.4L635.0 244.9ZM708.9 90.3L710.6 89.7L712.4 89.6L714.1 89.2L716.1 89.4L717.8 90.3L718.1 91.9L719.0 93.2L718.6 94.6L717.6 95.6L717.0 96.9L715.4 97.7L714.6 99.2L713.3 100.3L712.0 99.2L710.4 99.1L709.8 97.7L708.9 96.6L708.1 95.4L707.9 93.9L707.4 92.5L708.2 91.5ZM695.7 275.7L695.5 277.1L694.9 278.3L694.3 279.6L693.7 280.9M687.6 281.4L688.6 280.1L690.1 280.3L690.6 281.7L689.5 282.8L688.1 282.6Z"/>
<path d="M637.6 195.5L637.1 196.5L636.4 197.4L636.0 198.4L635.1 199.3L635.6 200.4L636.3 201.3L636.9 202.2L637.6 203.1L637.9 204.2L639.0 204.9L639.0 206.1L639.5 207.1L639.9 208.1L640.6 209.0" stroke-width="2.2"/>
<path d="M639.4 212.5L639.0 213.5L638.2 214.4L638.0 215.5L637.5 216.5L638.3 217.7L637.5 218.7L638.2 219.8L637.4 220.7L637.0 221.7L637.0 223.1L635.7 224.0L635.8 225.4L635.1 226.3L635.0 227.4L634.7 228.4L634.5 229.5" stroke-width="2.6"/>
<path d="M634.5 229.5L635.6 229.3L636.5 230.0L637.6 229.9L638.6 229.5L639.4 228.8L640.6 228.8L641.0 227.3L641.9 226.8L643.1 226.7L644.3 226.0L645.6 226.1L646.9 226.5L648.0 226.3L648.4 224.9L649.7 225.0L650.6 224.4L651.6 223.7L652.7 223.7L653.9 223.8L655.0 223.7L656.1 223.9L656.9 223.2L657.5 221.8L658.7 222.3L659.9 221.7L661.1 221.3L662.4 221.8L663.1 222.9L664.1 223.4L665.4 223.5" stroke-width="2.6"/>
<path d="M616.5 181.7L617.7 181.6L618.2 182.8L619.2 183.2L620.2 183.4L621.0 184.6L622.6 184.3L623.7 184.9L624.6 185.8L625.9 185.8L626.9 185.2L627.9 184.3L629.1 184.2" stroke-width="2.2"/>
<path d="M633.5 185.4L634.5 186.2L635.9 185.1L636.8 186.3L638.0 186.1L639.3 186.5L639.5 188.1L640.9 188.3L641.3 189.7L639.9 190.7L640.2 192.0L640.5 193.0L640.8 194.0L641.1 195.0L642.2 195.5L641.5 196.4L640.5 196.8L639.4 197.2L638.2 197.0L636.9 197.6L635.7 197.4" stroke-width="2.0"/>
<path d="M623.9 166.5L623.8 167.6L623.4 168.7L623.1 169.8L622.7 170.8L622.1 171.7L621.6 172.6L621.0 173.5" stroke-width="1.8"/>
<path d="M572.2 164.8L573.1 165.2L573.9 165.9L575.0 166.0L576.2 166.5L577.3 165.8L578.5 166.0" stroke-width="2.0"/>
<path d="M569.3 172.2L570.0 171.4L571.2 171.3L572.0 170.6L572.8 169.9L573.7 169.2L574.8 168.9L575.7 168.4" stroke-width="1.8"/>
<path d="M578.7 198.7L579.8 198.7L581.0 198.7L582.0 198.2L583.1 198.0L584.2 197.6L585.2 197.0L586.6 197.2L587.4 196.2" stroke-width="1.8"/>
<path d="M560.9 205.4L562.1 205.2L562.8 204.4L563.8 203.9L564.8 203.4L565.4 202.4L566.4 201.8L567.6 202.0L568.8 202.0L569.8 201.3L571.0 201.5L572.1 200.8L573.1 200.1L574.3 200.2" stroke-width="1.7"/>
<path d="M584.6 286.1L583.9 287.2L582.5 286.8L581.7 287.6L580.5 288.1L579.7 289.1L578.7 289.8L579.6 290.5L578.9 291.9L579.3 292.8L580.2 293.5L579.2 294.2L578.2 295.0L577.2 295.7L578.0 296.6L578.7 297.4L578.0 298.7L577.4 299.6L576.3 300.0L575.7 300.9L576.8 302.0L575.7 303.5L576.5 304.6L575.7 305.6L574.7 306.1L573.5 306.1L574.8 306.9L574.3 308.3" stroke-width="2.6"/>
<path d="M574.3 308.3L573.0 308.1L572.2 309.5L571.1 310.1L569.8 309.8L568.8 310.7L569.1 312.0L568.1 312.6L566.9 312.9L565.7 312.4L564.6 312.8L564.2 313.8L563.0 314.4L563.3 315.8L562.4 316.5L561.3 317.2L561.6 318.5L560.9 319.4L560.1 320.1L559.0 320.5L558.5 321.5L558.0 322.4L557.0 323.1L556.7 324.3L556.5 325.4" stroke-width="1.9"/>
<path d="M566.0 263.5L566.9 264.2L567.9 264.6L568.9 265.0L570.1 264.8L571.0 265.5L572.0 265.9L573.0 266.2L574.0 266.6L575.1 266.7L576.0 267.3" stroke-width="1.8"/>
<path d="M675.5 244.6L676.0 245.7L676.6 246.7L677.8 247.2L679.0 247.7L679.4 248.9L678.8 250.0L680.3 250.7L680.0 251.7L680.4 252.6L681.7 252.8L681.7 253.9L681.5 255.0L682.7 255.8L682.4 257.0" stroke-width="2.4"/>
<path d="M684.6 246.5L685.1 247.4L684.7 248.7L685.6 249.5L685.4 250.6L686.6 251.4L686.5 252.5L685.7 253.1L685.6 254.1L685.4 255.0L685.2 256.1L683.7 255.9L683.5 257.0" stroke-width="2.0"/>
<path d="M686.5 246.0L687.2 247.0L688.3 247.5L689.1 248.3L689.6 249.3L689.8 250.5L689.6 251.5L690.2 252.5L689.6 253.5L688.8 254.2L688.3 255.0L688.0 256.0" stroke-width="1.8"/>
<path d="M689.8 265.0L690.0 265.9L690.3 266.7L690.8 267.5L690.2 268.4L690.7 269.6L690.2 270.5" stroke-width="2.2"/>
<path d="M716.7 233.0L717.6 232.1L718.7 231.5L720.0 231.3L721.1 231.0L722.1 230.3L723.3 230.2L724.3 229.5L725.6 229.4L726.7 229.1L727.8 228.7L728.8 228.1L730.0 228.0" stroke-width="1.8"/>
<path d="M735.6 225.8L736.7 225.6L737.8 225.2L739.0 225.5L740.0 225.0L741.1 224.9L742.2 225.3L743.3 225.4L744.2 225.6L745.1 225.9L746.0 226.3" stroke-width="1.8"/>
<path d="M722.0 214.2L723.0 214.3L724.0 214.2L725.0 214.1L726.0 214.6L727.1 215.0L728.4 215.0L729.5 215.5" stroke-width="1.8"/>
<path d="M807.2 217.8L807.5 218.8L807.2 219.7L806.8 220.6L807.5 221.6L808.0 222.6" stroke-width="1.7"/>
<path d="M818.5 142.6L818.8 143.6L818.7 144.6L818.7 145.7L818.5 146.7L819.7 146.7L820.7 146.0" stroke-width="1.7"/>
<path d="M878.3 113.3L879.0 113.8L879.8 114.4L880.6 114.8L881.7 115.1L882.9 114.6L884.0 114.8" stroke-width="1.7"/>
<path d="M703.1 120.2L704.1 119.5L705.2 118.8L706.1 118.0L707.1 117.6L707.9 116.9L708.3 115.9L708.6 117.1L709.8 117.7L710.4 118.7L710.8 119.8L711.9 120.1L712.6 120.9" stroke-width="1.9"/>
<g fill="#000" stroke="none">
<ellipse cx="609" cy="91" rx="3.2" ry="1.1" transform="rotate(25 609 91)"/>
<ellipse cx="641.6" cy="111.8" rx="2.3" ry="1.4" transform="rotate(30 641.6 111.8)"/>
<ellipse cx="668" cy="108.6" rx="2.6" ry="1.4" transform="rotate(-55 668 108.6)"/>
<ellipse cx="617" cy="117.2" rx="1.6" ry="1.6" transform="rotate(0 617 117.2)"/>
<ellipse cx="620.2" cy="150.6" rx="3" ry="1" transform="rotate(-20 620.2 150.6)"/>
<ellipse cx="616.7" cy="116.5" rx="1" ry="1.6" transform="rotate(0 616.7 116.5)"/>
<ellipse cx="825.6" cy="92" rx="1.5" ry="1.3" transform="rotate(0 825.6 92)"/>
<ellipse cx="803.3" cy="130.4" rx="1.2" ry="1.6" transform="rotate(10 803.3 130.4)"/>
<ellipse cx="896.6" cy="109.6" rx="2.3" ry="1.3" transform="rotate(-15 896.6 109.6)"/>
<ellipse cx="673.8" cy="229.8" rx="1.6" ry="4.5" transform="rotate(20 673.8 229.8)"/>
<ellipse cx="678.5" cy="237.5" rx="1.3" ry="1.2" transform="rotate(0 678.5 237.5)"/>
<ellipse cx="670.3" cy="247.5" rx="1.2" ry="2" transform="rotate(30 670.3 247.5)"/>
<ellipse cx="666.1" cy="251.4" rx="2" ry="1.3" transform="rotate(-20 666.1 251.4)"/>
<ellipse cx="677.5" cy="243.8" rx="1.5" ry="1.2" transform="rotate(0 677.5 243.8)"/>
<ellipse cx="680" cy="246" rx="1.2" ry="1.5" transform="rotate(0 680 246)"/>
<ellipse cx="675" cy="307.4" rx="4" ry="1.5" transform="rotate(-32 675 307.4)"/>
<ellipse cx="668.8" cy="314.3" rx="1.1" ry="1.6" transform="rotate(0 668.8 314.3)"/>
<ellipse cx="656.6" cy="330.6" rx="5.6" ry="1.6" transform="rotate(-45 656.6 330.6)"/>
<ellipse cx="623" cy="352.4" rx="2" ry="1.4" transform="rotate(30 623 352.4)"/>
<ellipse cx="603.2" cy="358.4" rx="2.2" ry="1.5" transform="rotate(-10 603.2 358.4)"/>
<ellipse cx="608.5" cy="356.6" rx="2.1" ry="1.4" transform="rotate(-40 608.5 356.6)"/>
<ellipse cx="723.5" cy="206" rx="1.6" ry="1.3" transform="rotate(0 723.5 206)"/>
</g></g></g>
<rect x="555.5" y="31.5" width="383" height="383" fill="none" stroke="#000" stroke-width="1"/>
<text x="619.7" y="424.8" font-size="8" text-anchor="middle" letter-spacing="-0.22">125°E</text>
<text x="683.6" y="424.8" font-size="8" text-anchor="middle" letter-spacing="-0.22">130°E</text>
<text x="747.4" y="424.8" font-size="8" text-anchor="middle" letter-spacing="-0.22">135°E</text>
<text x="811.2" y="424.8" font-size="8" text-anchor="middle" letter-spacing="-0.22">140°E</text>
<text x="875.1" y="424.8" font-size="8" text-anchor="middle" letter-spacing="-0.22">145°E</text>
<text x="551.1" y="352.8" font-size="8" text-anchor="end" letter-spacing="-0.22">25°N</text>
<text x="551.1" y="288.9" font-size="8" text-anchor="end" letter-spacing="-0.22">30°N</text>
<text x="551.1" y="225.1" font-size="8" text-anchor="end" letter-spacing="-0.22">35°N</text>
<text x="551.1" y="161.3" font-size="8" text-anchor="end" letter-spacing="-0.22">40°N</text>
<text x="551.1" y="97.4" font-size="8" text-anchor="end" letter-spacing="-0.22">45°N</text>
<text x="561" y="407" font-size="10" text-anchor="start" >Provided by JWA/JMA</text>
<rect x="810.5" y="271.5" width="105.0" height="104.0" fill="#fff"/>
<path d="M809.9 357.8h3.2M811.5 356.2v3.2M810.2 363.0h3.2M811.8 361.4v3.2M812.0 368.2h3.2M813.6 366.6v3.2M809.4 370.8h3.2M811.0 369.2v3.2M811.0 372.4h3.2M812.6 370.8v3.2M812.6 372.9h3.2M814.2 371.3v3.2M814.1 374.5h3.2M815.8 372.9v3.2M816.2 374.7h3.2M817.9 373.1v3.2M818.4 375.0h3.2M820.0 373.4v3.2M820.4 375.2h3.2M822.0 373.6v3.2M824.6 375.5h3.2M826.2 373.9v3.2M822.5 375.3h3.2M824.1 373.7v3.2M815.2 373.4h3.2M816.8 371.8v3.2M813.6 373.9h3.2M815.2 372.3v3.2M811.5 374.3h3.2M813.1 372.7v3.2M810.5 373.4h3.2M812.1 371.8v3.2M817.3 374.3h3.2M818.9 372.7v3.2M809.8 375.0h3.2M811.4 373.4v3.2M809.7 375.2h3.2M811.3 373.6v3.2M812.3 375.3h3.2M813.9 373.7v3.2M813.0 375.1h3.2M814.6 373.5v3.2M812.7 375.3h3.2M814.3 373.7v3.2M810.4 375.3h3.2M812.0 373.7v3.2M815.0 374.7h3.2M816.6 373.1v3.2M810.8 375.0h3.2M812.4 373.4v3.2M815.1 373.9h3.2M816.7 372.3v3.2M812.2 375.1h3.2M813.8 373.5v3.2M810.0 375.5h3.2M811.6 373.9v3.2M810.8 374.9h3.2M812.4 373.3v3.2M810.0 375.1h3.2M811.6 373.5v3.2M811.3 373.9h3.2M812.9 372.3v3.2M810.9 374.4h3.2M812.5 372.8v3.2M811.2 374.8h3.2M812.8 373.2v3.2M810.2 375.4h3.2M811.8 373.8v3.2M811.2 375.3h3.2M812.8 373.7v3.2M810.5 374.6h3.2M812.1 373.0v3.2M810.8 374.4h3.2M812.4 372.8v3.2M811.9 375.3h3.2M813.5 373.7v3.2M810.5 374.1h3.2M812.1 372.5v3.2M809.1 374.3h3.2M810.7 372.7v3.2M816.3 375.2h3.2M817.9 373.6v3.2M809.3 374.7h3.2M810.9 373.1v3.2M810.7 375.4h3.2M812.3 373.8v3.2M814.3 374.7h3.2M815.9 373.1v3.2M811.4 374.6h3.2M813.0 373.0v3.2M814.2 375.2h3.2M815.8 373.6v3.2M809.3 374.3h3.2M810.9 372.7v3.2M811.2 374.9h3.2M812.8 373.3v3.2M810.6 374.3h3.2M812.2 372.7v3.2M812.5 375.0h3.2M814.1 373.4v3.2M813.6 373.6h3.2M815.2 372.0v3.2M814.3 375.3h3.2M815.9 373.7v3.2M814.2 375.0h3.2M815.8 373.4v3.2M815.9 373.1h3.2M817.5 371.5v3.2M810.2 374.8h3.2M811.8 373.2v3.2M813.0 374.6h3.2M814.6 373.0v3.2M812.9 375.4h3.2M814.5 373.8v3.2" stroke="#000" stroke-width="0.8" fill="none"/>
<line x1="810.5" y1="375.5" x2="915.5" y2="271.5" stroke="#000" stroke-width="1.3"/>
<rect x="810.5" y="271.5" width="105.0" height="104.0" fill="none" stroke="#000" stroke-width="1"/>
<path d="M810.50 375.5v3.5M810.5 375.50h-3.5M815.75 375.5v2M810.5 370.30h-2M821.00 375.5v2M810.5 365.10h-2M826.25 375.5v2M810.5 359.90h-2M831.50 375.5v3.5M810.5 354.70h-3.5M836.75 375.5v2M810.5 349.50h-2M842.00 375.5v2M810.5 344.30h-2M847.25 375.5v2M810.5 339.10h-2M852.50 375.5v3.5M810.5 333.90h-3.5M857.75 375.5v2M810.5 328.70h-2M863.00 375.5v2M810.5 323.50h-2M868.25 375.5v2M810.5 318.30h-2M873.50 375.5v3.5M810.5 313.10h-3.5M878.75 375.5v2M810.5 307.90h-2M884.00 375.5v2M810.5 302.70h-2M889.25 375.5v2M810.5 297.50h-2M894.50 375.5v3.5M810.5 292.30h-3.5M899.75 375.5v2M810.5 287.10h-2M905.00 375.5v2M810.5 281.90h-2M910.25 375.5v2M810.5 276.70h-2M915.50 375.5v3.5M810.5 271.50h-3.5" stroke="#000" stroke-width="0.8" fill="none"/>
<text x="810.5" y="388" font-size="8" text-anchor="middle" >0</text>
<text x="805.2" y="378.5" font-size="8" text-anchor="end" >0</text>
<text x="831.5" y="388" font-size="8" text-anchor="middle" >2</text>
<text x="805.2" y="357.7" font-size="8" text-anchor="end" >2</text>
<text x="852.5" y="388" font-size="8" text-anchor="middle" >4</text>
<text x="805.2" y="336.9" font-size="8" text-anchor="end" >4</text>
<text x="873.5" y="388" font-size="8" text-anchor="middle" >6</text>
<text x="805.2" y="316.1" font-size="8" text-anchor="end" >6</text>
<text x="894.5" y="388" font-size="8" text-anchor="middle" >8</text>
<text x="805.2" y="295.3" font-size="8" text-anchor="end" >8</text>
<text x="915.5" y="388" font-size="8" text-anchor="middle" >10</text>
<text x="805.2" y="274.5" font-size="8" text-anchor="end" >10</text>
<text x="861.5" y="398.7" font-size="10" text-anchor="middle" >ANALYSIS</text>
<text font-size="10" text-anchor="middle" transform="translate(790.8,324) rotate(-90)">GSMAP_NRT_1HR</text>
<text x="276.5" y="25.8" font-size="12" text-anchor="middle" >GSMAP_NRT_1HR estimates for 20260120 13</text>
<text x="746.5" y="25.8" font-size="12" text-anchor="middle" >Hourly Radar-AMeDAS analysis for 20260120 13</text>
<rect x="972.5" y="377.05" width="21.0" height="36.75" fill="#FFE8BA"/>
<rect x="972.5" y="340.60" width="21.0" height="36.75" fill="#D8FBC0"/>
<rect x="972.5" y="304.15" width="21.0" height="36.75" fill="#98FB98"/>
<rect x="972.5" y="267.70" width="21.0" height="36.75" fill="#66FFFF"/>
<rect x="972.5" y="231.25" width="21.0" height="36.75" fill="#00BFFF"/>
<rect x="972.5" y="194.80" width="21.0" height="36.75" fill="#0060FF"/>
<rect x="972.5" y="158.35" width="21.0" height="36.75" fill="#9966FF"/>
<rect x="972.5" y="121.90" width="21.0" height="36.75" fill="#E066FF"/>
<rect x="972.5" y="85.45" width="21.0" height="36.75" fill="#FF00FF"/>
<rect x="972.5" y="49.00" width="21.0" height="36.75" fill="#CD9B3F"/>
<path d="M972.5 49.0 L983.0 30.2 L993.5 49.0 Z" fill="#000" stroke="#000" stroke-width="1" stroke-linejoin="miter"/>
<rect x="972.5" y="49.0" width="21.0" height="364.5" fill="none" stroke="#000" stroke-width="1" stroke-opacity="0.75"/>
<line x1="994.5" x2="998.5" y1="413.8" y2="413.8" stroke="#000" stroke-width="1"/>
<text x="1000.6" y="419.0" font-size="12" text-anchor="start" letter-spacing="-0.45">0</text>
<line x1="994.5" x2="998.5" y1="377.3" y2="377.3" stroke="#000" stroke-width="1"/>
<text x="1000.6" y="381.6" font-size="12" text-anchor="start" letter-spacing="-0.45">0.01</text>
<line x1="994.5" x2="998.5" y1="341.3" y2="341.3" stroke="#000" stroke-width="1"/>
<text x="1000.6" y="345.1" font-size="12" text-anchor="start" letter-spacing="-0.45">0.5</text>
<line x1="994.5" x2="998.5" y1="304.3" y2="304.3" stroke="#000" stroke-width="1"/>
<text x="1000.6" y="308.6" font-size="12" text-anchor="start" letter-spacing="-0.45">1</text>
<line x1="994.5" x2="998.5" y1="268.3" y2="268.3" stroke="#000" stroke-width="1"/>
<text x="1000.6" y="272.2" font-size="12" text-anchor="start" letter-spacing="-0.45">2</text>
<line x1="994.5" x2="998.5" y1="231.3" y2="231.3" stroke="#000" stroke-width="1"/>
<text x="1000.6" y="235.8" font-size="12" text-anchor="start" letter-spacing="-0.45">3</text>
<line x1="994.5" x2="998.5" y1="195.3" y2="195.3" stroke="#000" stroke-width="1"/>
<text x="1000.6" y="199.3" font-size="12" text-anchor="start" letter-spacing="-0.45">4</text>
<line x1="994.5" x2="998.5" y1="158.3" y2="158.3" stroke="#000" stroke-width="1"/>
<text x="1000.6" y="162.8" font-size="12" text-anchor="start" letter-spacing="-0.45">5</text>
<line x1="994.5" x2="998.5" y1="122.3" y2="122.3" stroke="#000" stroke-width="1"/>
<text x="1000.6" y="126.4" font-size="12" text-anchor="start" letter-spacing="-0.45">10</text>
<line x1="994.5" x2="998.5" y1="85.3" y2="85.3" stroke="#000" stroke-width="1"/>
<text x="1000.6" y="89.9" font-size="12" text-anchor="start" letter-spacing="-0.45">25</text>
<line x1="994.5" x2="998.5" y1="49.3" y2="49.3" stroke="#000" stroke-width="1"/>
<text x="1000.6" y="53.5" font-size="12" text-anchor="start" letter-spacing="-0.45">50</text>
<text x="140.3" y="446.8" font-size="10" text-anchor="middle" >Hourly fraction by occurence</text>
<rect x="74.5" y="452.5" width="133" height="45" fill="#fff" stroke="#555" stroke-width="0.7"/>
<rect x="74.5" y="452.5" width="119.80" height="17.80" fill="#FFE8BA" stroke="#333" stroke-width="0.6"/>
<rect x="194.3" y="452.5" width="12.00" height="17.80" fill="#D8FBC0" stroke="#333" stroke-width="0.6"/>
<rect x="206.3" y="452.5" width="1.20" height="17.80" fill="#222" stroke="#333" stroke-width="0.3"/>
<rect x="74.5" y="479.6" width="82.70" height="17.90" fill="#FFE8BA" stroke="#333" stroke-width="0.6"/>
<rect x="157.2" y="479.6" width="46.10" height="17.90" fill="#D8FBC0" stroke="#333" stroke-width="0.6"/>
<rect x="203.3" y="479.6" width="3.40" height="17.90" fill="#98FB98" stroke="#333" stroke-width="0.6"/>
<rect x="206.7" y="479.6" width="0.80" height="17.90" fill="#222" stroke="#333" stroke-width="0.3"/>
<line x1="194.3" y1="470.3" x2="157.2" y2="479.6" stroke="#333" stroke-width="0.6"/>
<line x1="206.3" y1="470.3" x2="203.3" y2="479.6" stroke="#333" stroke-width="0.6"/>
<line x1="207.2" y1="470.3" x2="206.7" y2="479.6" stroke="#333" stroke-width="0.6"/>
<text x="47.6" y="465.7" font-size="10" text-anchor="start" >Est</text>
<text x="47.6" y="492.7" font-size="10" text-anchor="start" >Obs</text>
<text x="58.3" y="510" font-size="10" text-anchor="start" >0%</text>
<text x="135.4" y="510" font-size="10" text-anchor="middle" >Areal fraction</text>
<text x="195" y="510" font-size="10" text-anchor="start" >100%</text>
<text x="139.8" y="527.7" font-size="10" text-anchor="middle" >Hourly fraction of total rain</text>
<line x1="75.3" y1="533.3" x2="75.3" y2="578.2" stroke="#556055" stroke-width="1.8"/>
<rect x="74.9" y="533.3" width="14.50" height="18.00" fill="#D8FBC0" stroke="#333" stroke-width="0.6"/>
<rect x="89.4" y="533.3" width="4.30" height="18.00" fill="#66FFFF" stroke="#333" stroke-width="0.6"/>
<rect x="74.9" y="560.5" width="98.40" height="17.70" fill="#D8FBC0" stroke="#333" stroke-width="0.6"/>
<rect x="173.3" y="560.5" width="25.00" height="17.70" fill="#98FB98" stroke="#333" stroke-width="0.6"/>
<rect x="198.3" y="560.5" width="9.30" height="17.70" fill="#66FFFF" stroke="#333" stroke-width="0.6"/>
<line x1="89.4" y1="551.3" x2="173.3" y2="560.5" stroke="#111" stroke-width="0.8"/>
<line x1="93.7" y1="551.3" x2="198.3" y2="560.5" stroke="#111" stroke-width="0.8"/>
<line x1="93.7" y1="551.3" x2="207.6" y2="560.5" stroke="#111" stroke-width="0.8"/>
<line x1="93.7" y1="551.3" x2="205" y2="560.5" stroke="#111" stroke-width="0.8"/>
<text x="47.6" y="546.6" font-size="10" text-anchor="start" >Est</text>
<text x="47.6" y="573.5" font-size="10" text-anchor="start" >Obs</text>
<text x="140.7" y="590.3" font-size="10" text-anchor="middle" >Rainfall accumulation by amount</text>
<rect x="277.5" y="478.5" width="124" height="95" fill="#fff" stroke="#000" stroke-width="1"/>
<line x1="339.5" y1="478.5" x2="339.5" y2="573.5" stroke="#000" stroke-width="1"/>
<line x1="277.5" y1="526.5" x2="401.5" y2="526.5" stroke="#000" stroke-width="1"/>
<text x="338.7" y="454.9" font-size="10" text-anchor="middle" >GSMAP_NRT_1HR</text>
<text x="308.3" y="469.8" font-size="10" text-anchor="middle" >&lt;0.01</text>
<text x="369.8" y="469.8" font-size="10" text-anchor="middle" >≥0.01</text>
<text x="308" y="505.6" font-size="10" text-anchor="middle" >2995</text>
<text x="370.9" y="505.6" font-size="10" text-anchor="middle" >5</text>
<text x="308" y="552.7" font-size="10" text-anchor="middle" >14</text>
<text x="370.9" y="552.7" font-size="10" text-anchor="middle" >0</text>
<text x="275.2" y="505.6" font-size="10" text-anchor="end" >&lt;0.01</text>
<text x="275.2" y="552.7" font-size="10" text-anchor="end" >≥0.01</text>
<text font-size="10" text-anchor="middle" transform="translate(246.4,520.3) rotate(-90)">ANALYSIS</text>
<text x="460.2" y="453.7" font-size="10" text-anchor="start" >Validation statistics for 20260120 13  n=3014 Valid. grid=0.25° Units=mm/hr.</text>
<line x1="457.2" y1="457.4" x2="997.2" y2="457.4" stroke="#000" stroke-width="1.2" stroke-dasharray="4.4 1.95"/>
<line x1="457.2" y1="480.6" x2="758" y2="480.6" stroke="#000" stroke-width="1.2" stroke-dasharray="4.4 1.95"/>
<text x="632.2" y="475.1" font-size="10" text-anchor="middle" >ANALYSIS</text>
<text x="713.5" y="475.1" font-size="10" text-anchor="middle" >GSMAP_NRT_1HR</text>
<text x="460.2" y="499.2" font-size="10" text-anchor="start" >Num of gridpoints raining</text>
<text x="648.6" y="499.2" font-size="10" text-anchor="end" >14</text>
<text x="729.4" y="499.2" font-size="10" text-anchor="end" >5</text>
<text x="460.2" y="519.1" font-size="10" text-anchor="start" >Average rain</text>
<text x="648.6" y="519.1" font-size="10" text-anchor="end" >0.1</text>
<text x="729.4" y="519.1" font-size="10" text-anchor="end" >0.0</text>
<text x="460.2" y="539.0" font-size="10" text-anchor="start" >Conditional rain</text>
<text x="648.6" y="539.0" font-size="10" text-anchor="end" >18.3</text>
<text x="729.4" y="539.0" font-size="10" text-anchor="end" >6.8</text>
<text x="461.6" y="558.2" font-size="10">Rain volume (mm km<tspan font-size="7" dy="-3.5">2</tspan><tspan dy="3.5">10</tspan><tspan font-size="7" dy="-3.5">6</tspan><tspan dy="3.5">)</tspan></text>
<text x="648.6" y="558.2" font-size="10" text-anchor="end" >0.2</text>
<text x="729.4" y="558.2" font-size="10" text-anchor="end" >0.0</text>
<text x="460.2" y="578.1" font-size="10" text-anchor="start" >Maximum rain</text>
<text x="648.6" y="578.1" font-size="10" text-anchor="end" >1.5</text>
<text x="729.4" y="578.1" font-size="10" text-anchor="end" >1.7</text>
<text x="784.2" y="471.6" font-size="10" text-anchor="start" >Mean abs error =    0.1</text>
<text x="784.2" y="488.6" font-size="10" text-anchor="start" >RMS error =    0.2</text>
<text x="784.2" y="505.6" font-size="10" text-anchor="start" >Correlation coeff = -0.033</text>
<text x="784.2" y="522.6" font-size="10" text-anchor="start" >Frequency bias =  0.357</text>
<text x="784.2" y="539.6" font-size="10" text-anchor="start" >Probability of detection =  0.000</text>
<text x="784.2" y="556.6" font-size="10" text-anchor="start" >False alarm ratio =  1.000</text>
<text x="784.2" y="573.6" font-size="10" text-anchor="start" >Hanssen &amp; Kuipers score = -0.002</text>
<text x="784.2" y="590.6" font-size="10" text-anchor="start" >Equitable threat score = -0.001</text>
</svg>
</body></html>
